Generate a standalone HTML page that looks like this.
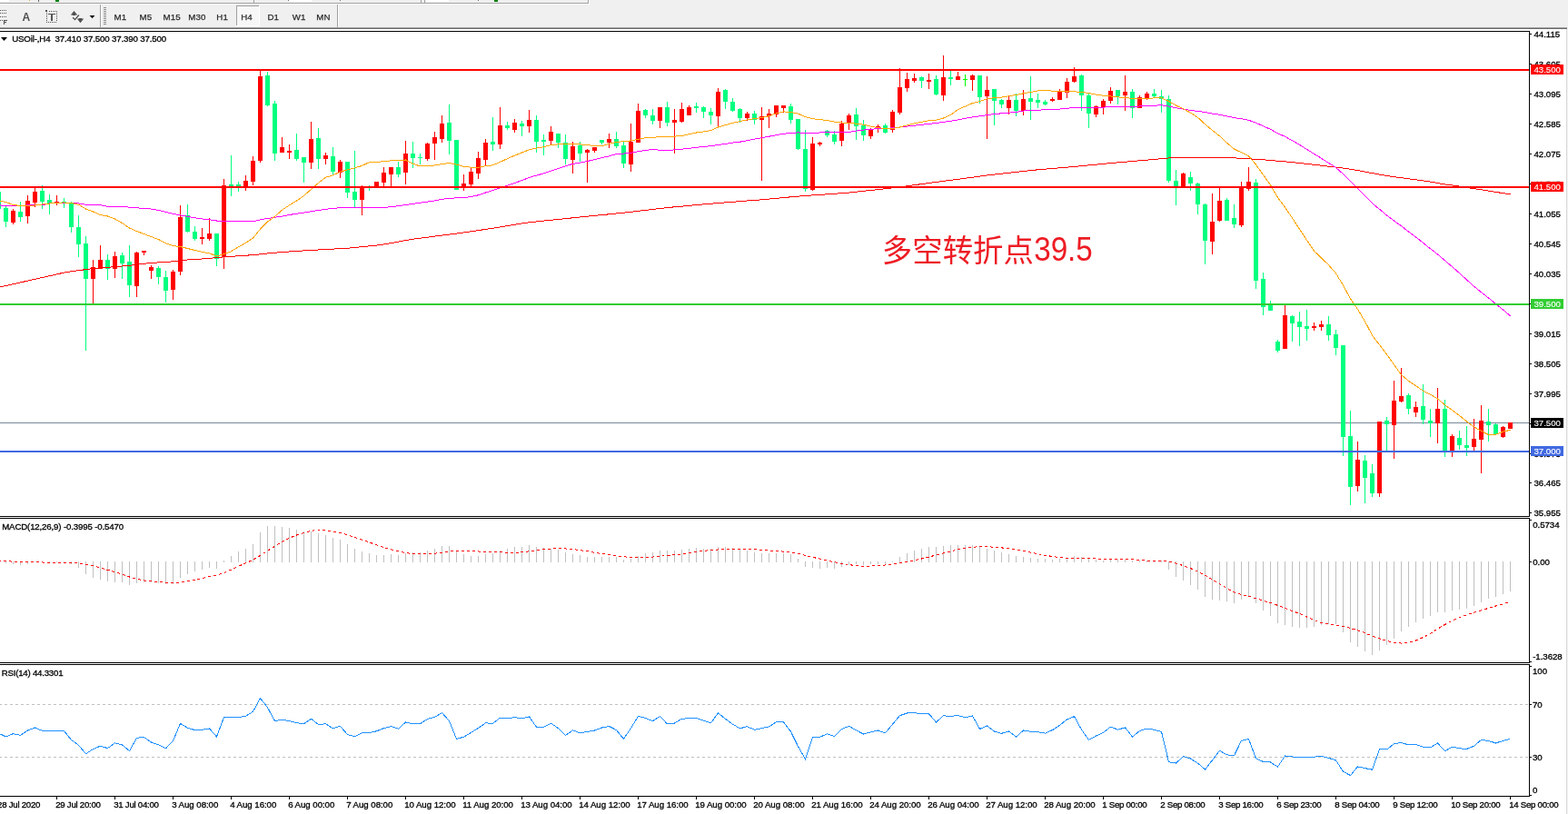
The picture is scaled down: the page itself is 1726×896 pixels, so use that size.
<!DOCTYPE html>
<html><head><meta charset="utf-8"><title>USOil H4</title>
<style>html,body{margin:0;padding:0;background:#f0f0f0;width:1726px;height:896px;overflow:hidden}svg{display:block}</style>
</head><body>
<svg width="1726" height="896" viewBox="0 0 1726 896"><rect x="0" y="0" width="1726" height="30" fill="#f0f0f0"/>
<rect x="0" y="3" width="647" height="1" fill="#a0a0a0"/>
<rect x="647" y="0" width="1" height="4" fill="#a0a0a0"/>
<rect x="0" y="4" width="648" height="1" fill="#ffffff"/>
<rect x="648" y="0" width="1" height="5" fill="#ffffff"/>
<rect x="0" y="0" width="10" height="2" fill="#ffffff"/>
<rect x="61" y="0" width="4" height="2" fill="#008000"/>
<rect x="32" y="0" width="1" height="1" fill="#d8b040"/>
<rect x="42" y="0" width="1" height="2" fill="#606060"/>
<rect x="279" y="0" width="1" height="3" fill="#a0a0a0"/>
<rect x="318" y="0" width="25" height="2" fill="#ffffff"/>
<rect x="463" y="0" width="1" height="3" fill="#a0a0a0"/>
<rect x="467" y="0" width="1" height="3" fill="#a0a0a0"/>
<rect x="469" y="0" width="25" height="2" fill="#ffffff"/>
<rect x="317" y="0" width="1" height="1" fill="#707070"/>
<rect x="374" y="0" width="1" height="1" fill="#707070"/>
<rect x="526" y="0" width="1" height="1" fill="#707070"/>
<rect x="544" y="0" width="4" height="2" fill="#008000"/>
<rect x="110" y="5" width="1" height="25" fill="#a0a0a0"/>
<rect x="111" y="5" width="1" height="25" fill="#ffffff"/>
<rect x="371" y="5" width="1" height="25" fill="#a0a0a0"/>
<rect x="372" y="5" width="1" height="25" fill="#ffffff"/>
<rect x="114" y="8" width="3" height="1" fill="#8c8c8c"/>
<rect x="114" y="10" width="3" height="1" fill="#8c8c8c"/>
<rect x="114" y="12" width="3" height="1" fill="#8c8c8c"/>
<rect x="114" y="14" width="3" height="1" fill="#8c8c8c"/>
<rect x="114" y="16" width="3" height="1" fill="#8c8c8c"/>
<rect x="114" y="18" width="3" height="1" fill="#8c8c8c"/>
<rect x="114" y="20" width="3" height="1" fill="#8c8c8c"/>
<rect x="114" y="22" width="3" height="1" fill="#8c8c8c"/>
<rect x="114" y="24" width="3" height="1" fill="#8c8c8c"/>
<rect x="114" y="26" width="3" height="1" fill="#8c8c8c"/>
<rect x="0" y="11" width="1" height="1" fill="#505050"/>
<rect x="2" y="11" width="1" height="1" fill="#505050"/>
<rect x="4" y="11" width="1" height="1" fill="#505050"/>
<rect x="6" y="11" width="1" height="1" fill="#505050"/>
<rect x="0" y="14" width="1" height="1" fill="#505050"/>
<rect x="2" y="14" width="1" height="1" fill="#505050"/>
<rect x="4" y="14" width="1" height="1" fill="#505050"/>
<rect x="6" y="14" width="1" height="1" fill="#505050"/>
<rect x="0" y="18" width="1" height="1" fill="#505050"/>
<rect x="2" y="18" width="1" height="1" fill="#505050"/>
<rect x="4" y="18" width="1" height="1" fill="#505050"/>
<rect x="6" y="18" width="1" height="1" fill="#505050"/>
<rect x="0" y="22" width="1" height="1" fill="#505050"/>
<rect x="2" y="22" width="1" height="1" fill="#505050"/>
<rect x="4" y="22" width="1" height="5" fill="#505050"/>
<rect x="4" y="22" width="4" height="1" fill="#505050"/>
<rect x="4" y="24" width="3" height="1" fill="#505050"/>
<text x="24.5" y="22.7" fill="#505050" style="font-family:'Liberation Sans',Arial,sans-serif;font-size:12px;font-weight:bold">A</text>
<rect x="50" y="11" width="2" height="2" fill="#505050"/>
<rect x="54" y="12" width="1" height="1" fill="#505050"/>
<rect x="56" y="12" width="1" height="1" fill="#505050"/>
<rect x="58" y="12" width="1" height="1" fill="#505050"/>
<rect x="60" y="12" width="1" height="1" fill="#505050"/>
<rect x="62" y="12" width="1" height="1" fill="#505050"/>
<rect x="51" y="14" width="1" height="1" fill="#505050"/>
<rect x="62" y="14" width="1" height="1" fill="#505050"/>
<rect x="51" y="16" width="1" height="1" fill="#505050"/>
<rect x="62" y="16" width="1" height="1" fill="#505050"/>
<rect x="51" y="18" width="1" height="1" fill="#505050"/>
<rect x="62" y="18" width="1" height="1" fill="#505050"/>
<rect x="51" y="20" width="1" height="1" fill="#505050"/>
<rect x="62" y="20" width="1" height="1" fill="#505050"/>
<rect x="51" y="22" width="1" height="1" fill="#505050"/>
<rect x="62" y="22" width="1" height="1" fill="#505050"/>
<rect x="51" y="24" width="1" height="1" fill="#505050"/>
<rect x="53" y="24" width="1" height="1" fill="#505050"/>
<rect x="55" y="24" width="1" height="1" fill="#505050"/>
<rect x="57" y="24" width="1" height="1" fill="#505050"/>
<rect x="59" y="24" width="1" height="1" fill="#505050"/>
<rect x="61" y="24" width="1" height="1" fill="#505050"/>
<rect x="53" y="15" width="8" height="1" fill="#555555"/>
<rect x="56" y="15" width="2" height="8" fill="#555555"/>
<polygon points="77.8,16.6 81.5,12 85.2,16.6" fill="#505050"/>
<rect x="80" y="16" width="3" height="1" fill="#505050"/>
<polygon points="84.8,20.6 92.2,20.6 88.5,25.2" fill="#505050"/>
<rect x="87" y="20" width="3" height="1" fill="#505050"/>
<polyline points="80.2,19.2 82.5,21.6 86.9,16.5" fill="none" stroke="#505050" stroke-width="1.3"/>
<polygon points="98.5,17 104.5,17 101.5,20.3" fill="#101010"/>
<rect x="260" y="6" width="25" height="1" fill="#a0a0a0"/>
<rect x="260" y="6" width="1" height="22" fill="#a0a0a0"/>
<defs><pattern id="dith" width="2" height="2" patternUnits="userSpaceOnUse"><rect width="2" height="2" fill="#f0f0f0"/><rect width="1" height="1" fill="#ffffff"/><rect x="1" y="1" width="1" height="1" fill="#ffffff"/></pattern></defs>
<rect x="261" y="7" width="24" height="21" fill="url(#dith)"/>
<rect x="285" y="6" width="1" height="23" fill="#ffffff"/>
<rect x="260" y="28" width="26" height="1" fill="#ffffff"/>
<text x="125.5" y="21.9" fill="#2a2a2a" stroke="#2a2a2a" stroke-width="0.25" style="font-family:'Liberation Sans',Arial,sans-serif;font-size:9.7px;letter-spacing:0.15px" text-anchor="start" >M1</text>
<text x="153.5" y="21.9" fill="#2a2a2a" stroke="#2a2a2a" stroke-width="0.25" style="font-family:'Liberation Sans',Arial,sans-serif;font-size:9.7px;letter-spacing:0.15px" text-anchor="start" >M5</text>
<text x="179.5" y="21.9" fill="#2a2a2a" stroke="#2a2a2a" stroke-width="0.25" style="font-family:'Liberation Sans',Arial,sans-serif;font-size:9.7px;letter-spacing:0.15px" text-anchor="start" >M15</text>
<text x="207.3" y="21.9" fill="#2a2a2a" stroke="#2a2a2a" stroke-width="0.25" style="font-family:'Liberation Sans',Arial,sans-serif;font-size:9.7px;letter-spacing:0.15px" text-anchor="start" >M30</text>
<text x="238.3" y="21.9" fill="#2a2a2a" stroke="#2a2a2a" stroke-width="0.25" style="font-family:'Liberation Sans',Arial,sans-serif;font-size:9.7px;letter-spacing:0.15px" text-anchor="start" >H1</text>
<text x="265.2" y="21.9" fill="#2a2a2a" stroke="#2a2a2a" stroke-width="0.25" style="font-family:'Liberation Sans',Arial,sans-serif;font-size:9.7px;letter-spacing:0.15px" text-anchor="start" >H4</text>
<text x="294.4" y="21.9" fill="#2a2a2a" stroke="#2a2a2a" stroke-width="0.25" style="font-family:'Liberation Sans',Arial,sans-serif;font-size:9.7px;letter-spacing:0.15px" text-anchor="start" >D1</text>
<text x="321.8" y="21.9" fill="#2a2a2a" stroke="#2a2a2a" stroke-width="0.25" style="font-family:'Liberation Sans',Arial,sans-serif;font-size:9.7px;letter-spacing:0.15px" text-anchor="start" >W1</text>
<text x="348.2" y="21.9" fill="#2a2a2a" stroke="#2a2a2a" stroke-width="0.25" style="font-family:'Liberation Sans',Arial,sans-serif;font-size:9.7px;letter-spacing:0.15px" text-anchor="start" >MN</text>
<rect x="0" y="30" width="1725" height="1" fill="#a0a0a0"/>
<rect x="0" y="31" width="1725" height="1" fill="#696969"/>
<rect x="0" y="32" width="1724" height="864" fill="#ffffff"/>
<rect x="1724" y="32" width="1" height="864" fill="#d8d8d8"/>
<rect x="1725" y="30" width="1" height="866" fill="#f4f4f4"/>
<rect x="0" y="465" width="1683" height="1" fill="#778899"/>
<g shape-rendering="crispEdges">
<rect x="-2" y="205" width="1" height="31" fill="#00ff7f"/>
<rect x="-4" y="211" width="5" height="19" fill="#00ff7f"/>
<rect x="6" y="227" width="1" height="23" fill="#00ff7f"/>
<rect x="4" y="229" width="5" height="15" fill="#00ff7f"/>
<rect x="14" y="230" width="1" height="17" fill="#ff0000"/>
<rect x="12" y="232" width="5" height="13" fill="#ff0000"/>
<rect x="22" y="222" width="1" height="22" fill="#00ff7f"/>
<rect x="20" y="233" width="5" height="6" fill="#00ff7f"/>
<rect x="30" y="215" width="1" height="31" fill="#ff0000"/>
<rect x="28" y="221" width="5" height="17" fill="#ff0000"/>
<rect x="38" y="206" width="1" height="22" fill="#ff0000"/>
<rect x="36" y="211" width="5" height="12" fill="#ff0000"/>
<rect x="46" y="204" width="1" height="26" fill="#00ff7f"/>
<rect x="44" y="210" width="5" height="12" fill="#00ff7f"/>
<rect x="54" y="214" width="1" height="22" fill="#00ff7f"/>
<rect x="52" y="220" width="5" height="4" fill="#00ff7f"/>
<rect x="62" y="215" width="1" height="11" fill="#ff0000"/>
<rect x="60" y="222" width="5" height="2" fill="#ff0000"/>
<rect x="70" y="218" width="1" height="11" fill="#00ff7f"/>
<rect x="68" y="222" width="5" height="1" fill="#00ff7f"/>
<rect x="78" y="222" width="1" height="34" fill="#00ff7f"/>
<rect x="76" y="223" width="5" height="27" fill="#00ff7f"/>
<rect x="86" y="237" width="1" height="46" fill="#00ff7f"/>
<rect x="84" y="250" width="5" height="19" fill="#00ff7f"/>
<rect x="94" y="260" width="1" height="126" fill="#00ff7f"/>
<rect x="92" y="268" width="5" height="39" fill="#00ff7f"/>
<rect x="102" y="286" width="1" height="48" fill="#ff0000"/>
<rect x="100" y="294" width="5" height="13" fill="#ff0000"/>
<rect x="110" y="270" width="1" height="26" fill="#ff0000"/>
<rect x="108" y="286" width="5" height="10" fill="#ff0000"/>
<rect x="118" y="280" width="1" height="28" fill="#00ff7f"/>
<rect x="116" y="286" width="5" height="10" fill="#00ff7f"/>
<rect x="126" y="277" width="1" height="29" fill="#ff0000"/>
<rect x="124" y="282" width="5" height="14" fill="#ff0000"/>
<rect x="134" y="278" width="1" height="29" fill="#00ff7f"/>
<rect x="132" y="281" width="5" height="9" fill="#00ff7f"/>
<rect x="142" y="270" width="1" height="57" fill="#00ff7f"/>
<rect x="140" y="288" width="5" height="26" fill="#00ff7f"/>
<rect x="150" y="277" width="1" height="50" fill="#ff0000"/>
<rect x="148" y="278" width="5" height="37" fill="#ff0000"/>
<rect x="158" y="276" width="1" height="5" fill="#ff0000"/>
<rect x="156" y="276" width="5" height="2" fill="#ff0000"/>
<rect x="166" y="292" width="1" height="15" fill="#ff0000"/>
<rect x="164" y="294" width="5" height="4" fill="#ff0000"/>
<rect x="174" y="293" width="1" height="20" fill="#00ff7f"/>
<rect x="172" y="295" width="5" height="10" fill="#00ff7f"/>
<rect x="182" y="298" width="1" height="35" fill="#00ff7f"/>
<rect x="180" y="305" width="5" height="15" fill="#00ff7f"/>
<rect x="190" y="297" width="1" height="33" fill="#ff0000"/>
<rect x="188" y="299" width="5" height="20" fill="#ff0000"/>
<rect x="198" y="226" width="1" height="77" fill="#ff0000"/>
<rect x="196" y="239" width="5" height="60" fill="#ff0000"/>
<rect x="206" y="225" width="1" height="31" fill="#00ff7f"/>
<rect x="204" y="237" width="5" height="18" fill="#00ff7f"/>
<rect x="214" y="249" width="1" height="16" fill="#00ff7f"/>
<rect x="212" y="255" width="5" height="8" fill="#00ff7f"/>
<rect x="222" y="251" width="1" height="18" fill="#ff0000"/>
<rect x="220" y="261" width="5" height="2" fill="#ff0000"/>
<rect x="230" y="240" width="1" height="25" fill="#ff0000"/>
<rect x="228" y="257" width="5" height="6" fill="#ff0000"/>
<rect x="238" y="257" width="1" height="36" fill="#00ff7f"/>
<rect x="236" y="257" width="5" height="28" fill="#00ff7f"/>
<rect x="246" y="197" width="1" height="99" fill="#ff0000"/>
<rect x="244" y="204" width="5" height="79" fill="#ff0000"/>
<rect x="254" y="171" width="1" height="45" fill="#00ff7f"/>
<rect x="252" y="203" width="5" height="2" fill="#00ff7f"/>
<rect x="262" y="200" width="1" height="11" fill="#00ff7f"/>
<rect x="260" y="203" width="5" height="2" fill="#00ff7f"/>
<rect x="270" y="193" width="1" height="17" fill="#ff0000"/>
<rect x="268" y="199" width="5" height="6" fill="#ff0000"/>
<rect x="278" y="172" width="1" height="32" fill="#ff0000"/>
<rect x="276" y="177" width="5" height="23" fill="#ff0000"/>
<rect x="286" y="77" width="1" height="102" fill="#ff0000"/>
<rect x="284" y="84" width="5" height="93" fill="#ff0000"/>
<rect x="294" y="79" width="1" height="38" fill="#00ff7f"/>
<rect x="292" y="83" width="5" height="33" fill="#00ff7f"/>
<rect x="302" y="111" width="1" height="66" fill="#00ff7f"/>
<rect x="300" y="114" width="5" height="55" fill="#00ff7f"/>
<rect x="310" y="151" width="1" height="17" fill="#ff0000"/>
<rect x="308" y="162" width="5" height="6" fill="#ff0000"/>
<rect x="318" y="159" width="1" height="16" fill="#ff0000"/>
<rect x="316" y="166" width="5" height="2" fill="#ff0000"/>
<rect x="326" y="147" width="1" height="30" fill="#00ff7f"/>
<rect x="324" y="165" width="5" height="10" fill="#00ff7f"/>
<rect x="334" y="173" width="1" height="28" fill="#00ff7f"/>
<rect x="332" y="173" width="5" height="6" fill="#00ff7f"/>
<rect x="342" y="134" width="1" height="52" fill="#ff0000"/>
<rect x="340" y="153" width="5" height="26" fill="#ff0000"/>
<rect x="350" y="141" width="1" height="45" fill="#00ff7f"/>
<rect x="348" y="152" width="5" height="23" fill="#00ff7f"/>
<rect x="358" y="168" width="1" height="13" fill="#ff0000"/>
<rect x="356" y="171" width="5" height="4" fill="#ff0000"/>
<rect x="366" y="162" width="1" height="30" fill="#00ff7f"/>
<rect x="364" y="172" width="5" height="17" fill="#00ff7f"/>
<rect x="374" y="176" width="1" height="20" fill="#ff0000"/>
<rect x="372" y="178" width="5" height="12" fill="#ff0000"/>
<rect x="382" y="178" width="1" height="40" fill="#00ff7f"/>
<rect x="380" y="178" width="5" height="34" fill="#00ff7f"/>
<rect x="390" y="166" width="1" height="62" fill="#00ff7f"/>
<rect x="388" y="211" width="5" height="9" fill="#00ff7f"/>
<rect x="398" y="204" width="1" height="33" fill="#ff0000"/>
<rect x="396" y="206" width="5" height="14" fill="#ff0000"/>
<rect x="406" y="204" width="1" height="6" fill="#00ff7f"/>
<rect x="404" y="205" width="5" height="1" fill="#00ff7f"/>
<rect x="414" y="200" width="1" height="6" fill="#ff0000"/>
<rect x="412" y="200" width="5" height="6" fill="#ff0000"/>
<rect x="422" y="184" width="1" height="21" fill="#ff0000"/>
<rect x="420" y="190" width="5" height="11" fill="#ff0000"/>
<rect x="430" y="184" width="1" height="21" fill="#ff0000"/>
<rect x="428" y="184" width="5" height="8" fill="#ff0000"/>
<rect x="438" y="178" width="1" height="17" fill="#00ff7f"/>
<rect x="436" y="184" width="5" height="8" fill="#00ff7f"/>
<rect x="446" y="155" width="1" height="48" fill="#ff0000"/>
<rect x="444" y="169" width="5" height="21" fill="#ff0000"/>
<rect x="454" y="156" width="1" height="29" fill="#00ff7f"/>
<rect x="452" y="169" width="5" height="5" fill="#00ff7f"/>
<rect x="462" y="169" width="1" height="12" fill="#00ff7f"/>
<rect x="460" y="173" width="5" height="1" fill="#00ff7f"/>
<rect x="470" y="157" width="1" height="20" fill="#ff0000"/>
<rect x="468" y="158" width="5" height="17" fill="#ff0000"/>
<rect x="478" y="145" width="1" height="31" fill="#ff0000"/>
<rect x="476" y="151" width="5" height="7" fill="#ff0000"/>
<rect x="486" y="127" width="1" height="30" fill="#ff0000"/>
<rect x="484" y="136" width="5" height="17" fill="#ff0000"/>
<rect x="494" y="115" width="1" height="55" fill="#00ff7f"/>
<rect x="492" y="135" width="5" height="20" fill="#00ff7f"/>
<rect x="502" y="154" width="1" height="55" fill="#00ff7f"/>
<rect x="500" y="154" width="5" height="55" fill="#00ff7f"/>
<rect x="510" y="192" width="1" height="18" fill="#ff0000"/>
<rect x="508" y="202" width="5" height="5" fill="#ff0000"/>
<rect x="518" y="185" width="1" height="20" fill="#ff0000"/>
<rect x="516" y="189" width="5" height="14" fill="#ff0000"/>
<rect x="526" y="167" width="1" height="30" fill="#ff0000"/>
<rect x="524" y="174" width="5" height="17" fill="#ff0000"/>
<rect x="534" y="153" width="1" height="29" fill="#ff0000"/>
<rect x="532" y="157" width="5" height="19" fill="#ff0000"/>
<rect x="542" y="129" width="1" height="37" fill="#00ff7f"/>
<rect x="540" y="156" width="5" height="3" fill="#00ff7f"/>
<rect x="550" y="118" width="1" height="46" fill="#ff0000"/>
<rect x="548" y="138" width="5" height="21" fill="#ff0000"/>
<rect x="558" y="134" width="1" height="9" fill="#00ff7f"/>
<rect x="556" y="138" width="5" height="3" fill="#00ff7f"/>
<rect x="566" y="131" width="1" height="15" fill="#ff0000"/>
<rect x="564" y="135" width="5" height="8" fill="#ff0000"/>
<rect x="574" y="133" width="1" height="17" fill="#00ff7f"/>
<rect x="572" y="136" width="5" height="3" fill="#00ff7f"/>
<rect x="582" y="121" width="1" height="25" fill="#ff0000"/>
<rect x="580" y="132" width="5" height="7" fill="#ff0000"/>
<rect x="590" y="127" width="1" height="41" fill="#00ff7f"/>
<rect x="588" y="132" width="5" height="24" fill="#00ff7f"/>
<rect x="598" y="148" width="1" height="23" fill="#00ff7f"/>
<rect x="596" y="154" width="5" height="2" fill="#00ff7f"/>
<rect x="606" y="139" width="1" height="20" fill="#ff0000"/>
<rect x="604" y="145" width="5" height="10" fill="#ff0000"/>
<rect x="614" y="147" width="1" height="16" fill="#00ff7f"/>
<rect x="612" y="147" width="5" height="10" fill="#00ff7f"/>
<rect x="622" y="148" width="1" height="33" fill="#00ff7f"/>
<rect x="620" y="157" width="5" height="18" fill="#00ff7f"/>
<rect x="630" y="156" width="1" height="35" fill="#ff0000"/>
<rect x="628" y="161" width="5" height="15" fill="#ff0000"/>
<rect x="638" y="156" width="1" height="22" fill="#00ff7f"/>
<rect x="636" y="160" width="5" height="9" fill="#00ff7f"/>
<rect x="646" y="164" width="1" height="37" fill="#ff0000"/>
<rect x="644" y="165" width="5" height="3" fill="#ff0000"/>
<rect x="654" y="162" width="1" height="6" fill="#ff0000"/>
<rect x="652" y="162" width="5" height="4" fill="#ff0000"/>
<rect x="662" y="154" width="1" height="5" fill="#00ff7f"/>
<rect x="660" y="154" width="5" height="3" fill="#00ff7f"/>
<rect x="670" y="147" width="1" height="16" fill="#ff0000"/>
<rect x="668" y="153" width="5" height="4" fill="#ff0000"/>
<rect x="678" y="145" width="1" height="18" fill="#00ff7f"/>
<rect x="676" y="153" width="5" height="8" fill="#00ff7f"/>
<rect x="686" y="156" width="1" height="29" fill="#00ff7f"/>
<rect x="684" y="160" width="5" height="20" fill="#00ff7f"/>
<rect x="694" y="136" width="1" height="53" fill="#ff0000"/>
<rect x="692" y="156" width="5" height="25" fill="#ff0000"/>
<rect x="702" y="114" width="1" height="43" fill="#ff0000"/>
<rect x="700" y="122" width="5" height="35" fill="#ff0000"/>
<rect x="710" y="120" width="1" height="10" fill="#00ff7f"/>
<rect x="708" y="121" width="5" height="6" fill="#00ff7f"/>
<rect x="718" y="120" width="1" height="17" fill="#00ff7f"/>
<rect x="716" y="127" width="5" height="6" fill="#00ff7f"/>
<rect x="726" y="118" width="1" height="23" fill="#ff0000"/>
<rect x="724" y="118" width="5" height="15" fill="#ff0000"/>
<rect x="734" y="112" width="1" height="27" fill="#00ff7f"/>
<rect x="732" y="118" width="5" height="17" fill="#00ff7f"/>
<rect x="742" y="120" width="1" height="49" fill="#ff0000"/>
<rect x="740" y="132" width="5" height="3" fill="#ff0000"/>
<rect x="750" y="113" width="1" height="22" fill="#ff0000"/>
<rect x="748" y="120" width="5" height="14" fill="#ff0000"/>
<rect x="758" y="116" width="1" height="11" fill="#ff0000"/>
<rect x="756" y="118" width="5" height="9" fill="#ff0000"/>
<rect x="766" y="113" width="1" height="11" fill="#00ff7f"/>
<rect x="764" y="117" width="5" height="2" fill="#00ff7f"/>
<rect x="774" y="117" width="1" height="13" fill="#00ff7f"/>
<rect x="772" y="118" width="5" height="5" fill="#00ff7f"/>
<rect x="782" y="119" width="1" height="18" fill="#00ff7f"/>
<rect x="780" y="123" width="5" height="4" fill="#00ff7f"/>
<rect x="790" y="97" width="1" height="43" fill="#ff0000"/>
<rect x="788" y="101" width="5" height="27" fill="#ff0000"/>
<rect x="798" y="98" width="1" height="22" fill="#00ff7f"/>
<rect x="796" y="99" width="5" height="13" fill="#00ff7f"/>
<rect x="806" y="108" width="1" height="15" fill="#00ff7f"/>
<rect x="804" y="112" width="5" height="10" fill="#00ff7f"/>
<rect x="814" y="119" width="1" height="16" fill="#00ff7f"/>
<rect x="812" y="120" width="5" height="10" fill="#00ff7f"/>
<rect x="822" y="123" width="1" height="10" fill="#ff0000"/>
<rect x="820" y="125" width="5" height="5" fill="#ff0000"/>
<rect x="830" y="122" width="1" height="15" fill="#00ff7f"/>
<rect x="828" y="125" width="5" height="7" fill="#00ff7f"/>
<rect x="838" y="118" width="1" height="81" fill="#ff0000"/>
<rect x="836" y="128" width="5" height="4" fill="#ff0000"/>
<rect x="846" y="120" width="1" height="21" fill="#ff0000"/>
<rect x="844" y="125" width="5" height="3" fill="#ff0000"/>
<rect x="854" y="116" width="1" height="13" fill="#ff0000"/>
<rect x="852" y="116" width="5" height="10" fill="#ff0000"/>
<rect x="862" y="116" width="1" height="8" fill="#ff0000"/>
<rect x="860" y="116" width="5" height="3" fill="#ff0000"/>
<rect x="870" y="114" width="1" height="22" fill="#00ff7f"/>
<rect x="868" y="117" width="5" height="15" fill="#00ff7f"/>
<rect x="878" y="131" width="1" height="34" fill="#00ff7f"/>
<rect x="876" y="131" width="5" height="33" fill="#00ff7f"/>
<rect x="886" y="143" width="1" height="68" fill="#00ff7f"/>
<rect x="884" y="164" width="5" height="44" fill="#00ff7f"/>
<rect x="894" y="151" width="1" height="59" fill="#ff0000"/>
<rect x="892" y="158" width="5" height="51" fill="#ff0000"/>
<rect x="902" y="156" width="1" height="5" fill="#ff0000"/>
<rect x="900" y="157" width="5" height="2" fill="#ff0000"/>
<rect x="910" y="143" width="1" height="8" fill="#00ff7f"/>
<rect x="908" y="144" width="5" height="5" fill="#00ff7f"/>
<rect x="918" y="144" width="1" height="15" fill="#00ff7f"/>
<rect x="916" y="148" width="5" height="8" fill="#00ff7f"/>
<rect x="926" y="133" width="1" height="28" fill="#ff0000"/>
<rect x="924" y="136" width="5" height="19" fill="#ff0000"/>
<rect x="934" y="125" width="1" height="18" fill="#ff0000"/>
<rect x="932" y="127" width="5" height="8" fill="#ff0000"/>
<rect x="942" y="119" width="1" height="35" fill="#00ff7f"/>
<rect x="940" y="126" width="5" height="13" fill="#00ff7f"/>
<rect x="950" y="132" width="1" height="23" fill="#00ff7f"/>
<rect x="948" y="138" width="5" height="11" fill="#00ff7f"/>
<rect x="958" y="141" width="1" height="12" fill="#ff0000"/>
<rect x="956" y="143" width="5" height="7" fill="#ff0000"/>
<rect x="966" y="137" width="1" height="9" fill="#ff0000"/>
<rect x="964" y="139" width="5" height="3" fill="#ff0000"/>
<rect x="974" y="136" width="1" height="11" fill="#00ff7f"/>
<rect x="972" y="138" width="5" height="8" fill="#00ff7f"/>
<rect x="982" y="121" width="1" height="25" fill="#ff0000"/>
<rect x="980" y="123" width="5" height="20" fill="#ff0000"/>
<rect x="990" y="75" width="1" height="51" fill="#ff0000"/>
<rect x="988" y="96" width="5" height="28" fill="#ff0000"/>
<rect x="998" y="80" width="1" height="21" fill="#ff0000"/>
<rect x="996" y="87" width="5" height="10" fill="#ff0000"/>
<rect x="1006" y="81" width="1" height="10" fill="#ff0000"/>
<rect x="1004" y="86" width="5" height="3" fill="#ff0000"/>
<rect x="1014" y="84" width="1" height="13" fill="#00ff7f"/>
<rect x="1012" y="85" width="5" height="4" fill="#00ff7f"/>
<rect x="1022" y="81" width="1" height="17" fill="#ff0000"/>
<rect x="1020" y="88" width="5" height="2" fill="#ff0000"/>
<rect x="1030" y="83" width="1" height="22" fill="#00ff7f"/>
<rect x="1028" y="87" width="5" height="17" fill="#00ff7f"/>
<rect x="1038" y="61" width="1" height="50" fill="#ff0000"/>
<rect x="1036" y="85" width="5" height="20" fill="#ff0000"/>
<rect x="1046" y="78" width="1" height="16" fill="#00ff7f"/>
<rect x="1044" y="85" width="5" height="2" fill="#00ff7f"/>
<rect x="1054" y="79" width="1" height="9" fill="#ff0000"/>
<rect x="1052" y="84" width="5" height="4" fill="#ff0000"/>
<rect x="1062" y="82" width="1" height="13" fill="#00ff00"/>
<rect x="1060" y="87" width="5" height="1" fill="#00ff00"/>
<rect x="1070" y="82" width="1" height="18" fill="#ff0000"/>
<rect x="1068" y="83" width="5" height="5" fill="#ff0000"/>
<rect x="1078" y="83" width="1" height="31" fill="#00ff7f"/>
<rect x="1076" y="83" width="5" height="24" fill="#00ff7f"/>
<rect x="1086" y="84" width="1" height="69" fill="#ff0000"/>
<rect x="1084" y="99" width="5" height="7" fill="#ff0000"/>
<rect x="1094" y="98" width="1" height="40" fill="#00ff7f"/>
<rect x="1092" y="98" width="5" height="13" fill="#00ff7f"/>
<rect x="1102" y="109" width="1" height="10" fill="#00ff7f"/>
<rect x="1100" y="110" width="5" height="5" fill="#00ff7f"/>
<rect x="1110" y="105" width="1" height="21" fill="#ff0000"/>
<rect x="1108" y="110" width="5" height="9" fill="#ff0000"/>
<rect x="1118" y="103" width="1" height="25" fill="#00ff7f"/>
<rect x="1116" y="110" width="5" height="12" fill="#00ff7f"/>
<rect x="1126" y="99" width="1" height="28" fill="#ff0000"/>
<rect x="1124" y="109" width="5" height="13" fill="#ff0000"/>
<rect x="1134" y="84" width="1" height="48" fill="#00ff7f"/>
<rect x="1132" y="108" width="5" height="4" fill="#00ff7f"/>
<rect x="1142" y="103" width="1" height="16" fill="#00ff7f"/>
<rect x="1140" y="110" width="5" height="3" fill="#00ff7f"/>
<rect x="1150" y="110" width="1" height="6" fill="#00ff7f"/>
<rect x="1148" y="112" width="5" height="3" fill="#00ff7f"/>
<rect x="1158" y="107" width="1" height="5" fill="#ff0000"/>
<rect x="1156" y="109" width="5" height="2" fill="#ff0000"/>
<rect x="1166" y="98" width="1" height="12" fill="#ff0000"/>
<rect x="1164" y="101" width="5" height="9" fill="#ff0000"/>
<rect x="1174" y="86" width="1" height="22" fill="#ff0000"/>
<rect x="1172" y="90" width="5" height="12" fill="#ff0000"/>
<rect x="1182" y="74" width="1" height="17" fill="#ff0000"/>
<rect x="1180" y="84" width="5" height="6" fill="#ff0000"/>
<rect x="1190" y="82" width="1" height="40" fill="#00ff7f"/>
<rect x="1188" y="83" width="5" height="22" fill="#00ff7f"/>
<rect x="1198" y="103" width="1" height="38" fill="#00ff7f"/>
<rect x="1196" y="105" width="5" height="20" fill="#00ff7f"/>
<rect x="1206" y="116" width="1" height="13" fill="#ff0000"/>
<rect x="1204" y="117" width="5" height="9" fill="#ff0000"/>
<rect x="1214" y="109" width="1" height="17" fill="#ff0000"/>
<rect x="1212" y="111" width="5" height="7" fill="#ff0000"/>
<rect x="1222" y="96" width="1" height="18" fill="#ff0000"/>
<rect x="1220" y="100" width="5" height="11" fill="#ff0000"/>
<rect x="1230" y="99" width="1" height="16" fill="#00ff7f"/>
<rect x="1228" y="99" width="5" height="7" fill="#00ff7f"/>
<rect x="1238" y="83" width="1" height="39" fill="#ff0000"/>
<rect x="1236" y="101" width="5" height="4" fill="#ff0000"/>
<rect x="1246" y="98" width="1" height="32" fill="#00ff7f"/>
<rect x="1244" y="101" width="5" height="18" fill="#00ff7f"/>
<rect x="1254" y="105" width="1" height="14" fill="#ff0000"/>
<rect x="1252" y="107" width="5" height="12" fill="#ff0000"/>
<rect x="1262" y="101" width="1" height="9" fill="#ff0000"/>
<rect x="1260" y="103" width="5" height="5" fill="#ff0000"/>
<rect x="1270" y="98" width="1" height="9" fill="#00ff7f"/>
<rect x="1268" y="103" width="5" height="3" fill="#00ff7f"/>
<rect x="1278" y="99" width="1" height="25" fill="#00ff7f"/>
<rect x="1276" y="106" width="5" height="3" fill="#00ff7f"/>
<rect x="1286" y="105" width="1" height="96" fill="#00ff7f"/>
<rect x="1284" y="109" width="5" height="90" fill="#00ff7f"/>
<rect x="1294" y="187" width="1" height="39" fill="#00ff7f"/>
<rect x="1292" y="199" width="5" height="6" fill="#00ff7f"/>
<rect x="1302" y="190" width="1" height="15" fill="#ff0000"/>
<rect x="1300" y="191" width="5" height="14" fill="#ff0000"/>
<rect x="1310" y="189" width="1" height="21" fill="#00ff7f"/>
<rect x="1308" y="195" width="5" height="7" fill="#00ff7f"/>
<rect x="1318" y="201" width="1" height="35" fill="#00ff7f"/>
<rect x="1316" y="202" width="5" height="23" fill="#00ff7f"/>
<rect x="1326" y="224" width="1" height="67" fill="#00ff7f"/>
<rect x="1324" y="225" width="5" height="40" fill="#00ff7f"/>
<rect x="1334" y="213" width="1" height="67" fill="#ff0000"/>
<rect x="1332" y="244" width="5" height="22" fill="#ff0000"/>
<rect x="1342" y="206" width="1" height="38" fill="#ff0000"/>
<rect x="1340" y="221" width="5" height="22" fill="#ff0000"/>
<rect x="1350" y="218" width="1" height="25" fill="#00ff7f"/>
<rect x="1348" y="220" width="5" height="23" fill="#00ff7f"/>
<rect x="1358" y="225" width="1" height="26" fill="#00ff7f"/>
<rect x="1356" y="240" width="5" height="7" fill="#00ff7f"/>
<rect x="1366" y="200" width="1" height="50" fill="#ff0000"/>
<rect x="1364" y="205" width="5" height="43" fill="#ff0000"/>
<rect x="1374" y="184" width="1" height="26" fill="#ff0000"/>
<rect x="1372" y="200" width="5" height="8" fill="#ff0000"/>
<rect x="1382" y="197" width="1" height="121" fill="#00ff7f"/>
<rect x="1380" y="201" width="5" height="108" fill="#00ff7f"/>
<rect x="1390" y="300" width="1" height="47" fill="#00ff7f"/>
<rect x="1388" y="307" width="5" height="31" fill="#00ff7f"/>
<rect x="1398" y="331" width="1" height="11" fill="#00ff7f"/>
<rect x="1396" y="335" width="5" height="7" fill="#00ff7f"/>
<rect x="1406" y="374" width="1" height="14" fill="#00ff7f"/>
<rect x="1404" y="376" width="5" height="10" fill="#00ff7f"/>
<rect x="1414" y="336" width="1" height="48" fill="#ff0000"/>
<rect x="1412" y="347" width="5" height="37" fill="#ff0000"/>
<rect x="1422" y="347" width="1" height="29" fill="#00ff7f"/>
<rect x="1420" y="348" width="5" height="8" fill="#00ff7f"/>
<rect x="1430" y="343" width="1" height="38" fill="#00ff7f"/>
<rect x="1428" y="354" width="5" height="6" fill="#00ff7f"/>
<rect x="1438" y="341" width="1" height="34" fill="#00ff7f"/>
<rect x="1436" y="359" width="5" height="3" fill="#00ff7f"/>
<rect x="1446" y="355" width="1" height="9" fill="#ff0000"/>
<rect x="1444" y="359" width="5" height="2" fill="#ff0000"/>
<rect x="1454" y="353" width="1" height="11" fill="#ff0000"/>
<rect x="1452" y="357" width="5" height="3" fill="#ff0000"/>
<rect x="1462" y="348" width="1" height="27" fill="#00ff7f"/>
<rect x="1460" y="357" width="5" height="12" fill="#00ff7f"/>
<rect x="1470" y="363" width="1" height="28" fill="#00ff7f"/>
<rect x="1468" y="368" width="5" height="15" fill="#00ff7f"/>
<rect x="1478" y="380" width="1" height="122" fill="#00ff7f"/>
<rect x="1476" y="380" width="5" height="101" fill="#00ff7f"/>
<rect x="1486" y="452" width="1" height="104" fill="#00ff7f"/>
<rect x="1484" y="480" width="5" height="56" fill="#00ff7f"/>
<rect x="1494" y="486" width="1" height="55" fill="#ff0000"/>
<rect x="1492" y="506" width="5" height="29" fill="#ff0000"/>
<rect x="1502" y="501" width="1" height="53" fill="#00ff7f"/>
<rect x="1500" y="507" width="5" height="19" fill="#00ff7f"/>
<rect x="1510" y="511" width="1" height="36" fill="#00ff7f"/>
<rect x="1508" y="521" width="5" height="22" fill="#00ff7f"/>
<rect x="1518" y="464" width="1" height="83" fill="#ff0000"/>
<rect x="1516" y="464" width="5" height="79" fill="#ff0000"/>
<rect x="1526" y="459" width="1" height="37" fill="#00ff7f"/>
<rect x="1524" y="463" width="5" height="4" fill="#00ff7f"/>
<rect x="1534" y="419" width="1" height="86" fill="#ff0000"/>
<rect x="1532" y="441" width="5" height="27" fill="#ff0000"/>
<rect x="1542" y="405" width="1" height="38" fill="#ff0000"/>
<rect x="1540" y="436" width="5" height="6" fill="#ff0000"/>
<rect x="1550" y="433" width="1" height="23" fill="#00ff7f"/>
<rect x="1548" y="435" width="5" height="15" fill="#00ff7f"/>
<rect x="1558" y="442" width="1" height="17" fill="#ff0000"/>
<rect x="1556" y="448" width="5" height="6" fill="#ff0000"/>
<rect x="1566" y="423" width="1" height="44" fill="#00ff7f"/>
<rect x="1564" y="447" width="5" height="15" fill="#00ff7f"/>
<rect x="1574" y="450" width="1" height="31" fill="#00ff7f"/>
<rect x="1572" y="463" width="5" height="3" fill="#00ff7f"/>
<rect x="1582" y="427" width="1" height="61" fill="#ff0000"/>
<rect x="1580" y="450" width="5" height="16" fill="#ff0000"/>
<rect x="1590" y="440" width="1" height="63" fill="#00ff7f"/>
<rect x="1588" y="450" width="5" height="46" fill="#00ff7f"/>
<rect x="1598" y="478" width="1" height="25" fill="#ff0000"/>
<rect x="1596" y="480" width="5" height="16" fill="#ff0000"/>
<rect x="1606" y="474" width="1" height="21" fill="#00ff7f"/>
<rect x="1604" y="482" width="5" height="8" fill="#00ff7f"/>
<rect x="1614" y="469" width="1" height="33" fill="#00ff7f"/>
<rect x="1612" y="490" width="5" height="3" fill="#00ff7f"/>
<rect x="1622" y="461" width="1" height="35" fill="#ff0000"/>
<rect x="1620" y="483" width="5" height="9" fill="#ff0000"/>
<rect x="1630" y="446" width="1" height="75" fill="#ff0000"/>
<rect x="1628" y="463" width="5" height="21" fill="#ff0000"/>
<rect x="1638" y="450" width="1" height="36" fill="#00ff7f"/>
<rect x="1636" y="464" width="5" height="4" fill="#00ff7f"/>
<rect x="1646" y="466" width="1" height="12" fill="#00ff7f"/>
<rect x="1644" y="467" width="5" height="11" fill="#00ff7f"/>
<rect x="1654" y="469" width="1" height="13" fill="#ff0000"/>
<rect x="1652" y="470" width="5" height="11" fill="#ff0000"/>
<rect x="1662" y="465" width="1" height="7" fill="#ff0000"/>
<rect x="1660" y="465" width="5" height="7" fill="#ff0000"/>
</g>
<g shape-rendering="crispEdges">
<polyline points="-1.5,316.2 6.5,314.5 14.5,312.7 22.5,310.9 30.5,309.1 38.5,307.3 46.5,305.5 54.5,303.7 62.5,301.9 70.5,300.1 78.5,298.8 86.5,297.7 94.5,296.6 102.5,295.5 110.5,294.9 118.5,294.3 126.5,293.6 134.5,293.0 142.5,292.4 150.5,291.1 158.5,290.3 166.5,289.5 174.5,288.9 182.5,288.4 190.5,287.8 198.5,286.9 206.5,286.0 214.5,285.7 222.5,285.0 230.5,284.3 238.5,283.6 246.5,282.9 254.5,282.3 262.5,281.8 270.5,281.2 278.5,280.7 286.5,279.9 294.5,278.9 302.5,278.2 310.5,277.6 318.5,277.0 326.5,276.4 334.5,275.9 342.5,275.4 350.5,275.0 358.5,274.6 366.5,274.1 374.5,273.7 382.5,273.2 390.5,272.5 398.5,271.7 406.5,270.9 414.5,270.1 422.5,269.0 430.5,267.6 438.5,266.1 446.5,264.6 454.5,263.2 462.5,262.2 470.5,261.2 478.5,260.1 486.5,259.1 494.5,258.1 502.5,257.1 510.5,256.0 518.5,254.8 526.5,253.6 534.5,252.4 542.5,251.2 550.5,249.9 558.5,248.6 566.5,247.3 574.5,246.0 582.5,244.8 590.5,244.0 598.5,243.1 606.5,242.3 614.5,241.5 622.5,240.6 630.5,239.8 638.5,239.0 646.5,238.2 654.5,237.4 662.5,236.6 670.5,235.8 678.5,235.0 686.5,234.2 694.5,233.3 702.5,232.3 710.5,231.4 718.5,230.5 726.5,229.5 734.5,228.6 742.5,227.8 750.5,227.1 758.5,226.4 766.5,225.6 774.5,224.9 782.5,224.2 790.5,223.5 798.5,222.9 806.5,222.3 814.5,221.6 822.5,221.0 830.5,220.4 838.5,219.8 846.5,219.1 854.5,218.3 862.5,217.6 870.5,216.8 878.5,216.1 886.5,215.5 894.5,214.9 902.5,214.4 910.5,213.8 918.5,213.3 926.5,212.7 934.5,212.1 942.5,211.2 950.5,210.3 958.5,209.5 966.5,208.6 974.5,207.7 982.5,206.9 990.5,205.8 998.5,204.8 1006.5,203.7 1014.5,202.6 1022.5,201.5 1030.5,200.5 1038.5,199.4 1046.5,198.3 1054.5,197.3 1062.5,196.2 1070.5,195.2 1078.5,194.1 1086.5,193.0 1094.5,192.1 1102.5,191.2 1110.5,190.3 1118.5,189.4 1126.5,188.5 1134.5,187.6 1142.5,186.8 1150.5,186.1 1158.5,185.4 1166.5,184.8 1174.5,184.1 1182.5,183.4 1190.5,182.7 1198.5,181.9 1206.5,181.2 1214.5,180.4 1222.5,179.6 1230.5,178.9 1238.5,178.2 1246.5,177.5 1254.5,176.8 1262.5,176.1 1270.5,175.4 1278.5,174.7 1286.5,174.0 1294.5,173.6 1302.5,173.6 1310.5,173.6 1318.5,173.6 1326.5,173.6 1334.5,173.6 1342.5,173.6 1350.5,173.6 1358.5,173.9 1366.5,174.3 1374.5,174.8 1382.5,175.3 1390.5,175.8 1398.5,176.5 1406.5,177.2 1414.5,177.9 1422.5,178.6 1430.5,179.5 1438.5,180.4 1446.5,181.3 1454.5,182.2 1462.5,183.2 1470.5,184.1 1478.5,185.1 1486.5,186.2 1494.5,187.6 1502.5,189.1 1510.5,190.6 1518.5,192.1 1526.5,193.5 1534.5,194.6 1542.5,195.7 1550.5,196.8 1558.5,197.8 1566.5,198.9 1574.5,200.1 1582.5,201.5 1590.5,202.9 1598.5,203.9 1606.5,205.1 1614.5,206.4 1622.5,207.6 1630.5,208.8 1638.5,210.1 1646.5,211.4 1654.5,212.6 1662.5,213.8" fill="none" stroke="#ff0000" stroke-width="1" />
<polyline points="-1.5,225.5 6.5,226.9 14.5,226.9 22.5,226.9 30.5,225.8 38.5,225.8 46.5,225.8 54.5,224.0 62.5,223.8 70.5,223.8 78.5,223.8 86.5,224.0 94.5,225.3 102.5,225.5 110.5,225.8 118.5,227.3 126.5,227.5 134.5,227.7 142.5,228.1 150.5,228.9 158.5,229.2 166.5,230.1 174.5,231.5 182.5,233.4 190.5,235.3 198.5,237.0 206.5,238.3 214.5,239.8 222.5,241.0 230.5,241.8 238.5,243.0 246.5,243.0 254.5,243.0 262.5,243.0 270.5,243.9 278.5,243.9 286.5,241.8 294.5,240.5 302.5,239.3 310.5,238.1 318.5,236.5 326.5,235.2 334.5,234.1 342.5,232.8 350.5,231.5 358.5,230.3 366.5,229.3 374.5,228.8 382.5,228.8 390.5,228.8 398.5,228.8 406.5,228.8 414.5,228.8 422.5,228.7 430.5,227.5 438.5,226.8 446.5,225.5 454.5,224.4 462.5,223.2 470.5,222.1 478.5,221.0 486.5,219.4 494.5,218.2 502.5,217.9 510.5,217.6 518.5,216.5 526.5,214.8 534.5,212.0 542.5,209.6 550.5,206.9 558.5,204.1 566.5,201.4 574.5,198.6 582.5,195.4 590.5,193.1 598.5,190.9 606.5,188.2 614.5,185.5 622.5,182.9 630.5,180.4 638.5,179.1 646.5,177.5 654.5,175.6 662.5,173.7 670.5,171.8 678.5,169.6 686.5,169.1 694.5,168.3 702.5,166.8 710.5,165.4 718.5,164.6 726.5,165.2 734.5,165.6 742.5,164.9 750.5,164.2 758.5,163.3 766.5,162.3 774.5,161.3 782.5,160.8 790.5,159.4 798.5,158.4 806.5,157.1 814.5,156.2 822.5,154.7 830.5,153.1 838.5,151.7 846.5,150.2 854.5,148.7 862.5,147.3 870.5,146.4 878.5,145.9 886.5,146.6 894.5,146.3 902.5,146.0 910.5,145.8 918.5,145.9 926.5,145.9 934.5,145.4 942.5,144.1 950.5,143.1 958.5,142.3 966.5,141.7 974.5,141.4 982.5,140.8 990.5,140.0 998.5,139.1 1006.5,138.2 1014.5,137.3 1022.5,136.5 1030.5,135.5 1038.5,134.3 1046.5,133.2 1054.5,131.9 1062.5,130.3 1070.5,128.9 1078.5,127.8 1086.5,126.6 1094.5,125.6 1102.5,124.8 1110.5,124.1 1118.5,123.4 1126.5,122.1 1134.5,121.3 1142.5,121.1 1150.5,120.9 1158.5,120.4 1166.5,120.1 1174.5,119.3 1182.5,118.5 1190.5,118.2 1198.5,118.3 1206.5,118.3 1214.5,118.1 1222.5,117.6 1230.5,117.7 1238.5,117.5 1246.5,117.4 1254.5,117.0 1262.5,116.6 1270.5,116.2 1278.5,115.8 1286.5,117.1 1294.5,118.7 1302.5,120.1 1310.5,121.4 1318.5,122.5 1326.5,123.5 1334.5,125.1 1342.5,126.2 1350.5,127.9 1358.5,129.6 1366.5,130.8 1374.5,132.2 1382.5,135.3 1390.5,138.7 1398.5,142.3 1406.5,146.8 1414.5,150.4 1422.5,154.7 1430.5,159.4 1438.5,164.4 1446.5,169.4 1454.5,174.3 1462.5,179.4 1470.5,184.4 1478.5,191.6 1486.5,199.8 1494.5,207.5 1502.5,215.4 1510.5,223.8 1518.5,230.3 1526.5,237.0 1534.5,243.0 1542.5,248.8 1550.5,255.0 1558.5,260.9 1566.5,267.3 1574.5,273.8 1582.5,279.9 1590.5,286.8 1598.5,293.6 1606.5,300.6 1614.5,308.0 1622.5,315.2 1630.5,321.7 1638.5,328.0 1646.5,334.5 1654.5,341.0 1662.5,347.7" fill="none" stroke="#ff00ff" stroke-width="1" />
<polyline points="-1.5,221.0 6.5,222.5 14.5,225.5 22.5,226.5 30.5,226.5 38.5,226.0 46.5,224.9 54.5,224.1 62.5,223.1 70.5,223.0 78.5,223.5 86.5,225.3 94.5,230.0 102.5,233.0 110.5,236.5 118.5,238.0 126.5,241.0 134.5,245.5 142.5,251.0 150.5,254.5 158.5,257.5 166.5,260.6 174.5,263.5 182.5,267.7 190.5,270.6 198.5,271.5 206.5,273.5 214.5,275.5 222.5,277.3 230.5,278.9 238.5,281.9 246.5,279.7 254.5,276.7 262.5,271.8 270.5,267.3 278.5,262.1 286.5,252.1 294.5,244.1 302.5,238.4 310.5,231.2 318.5,225.8 326.5,221.0 334.5,215.5 342.5,208.3 350.5,201.4 358.5,195.3 366.5,192.8 374.5,189.2 382.5,186.8 390.5,184.8 398.5,182.4 406.5,178.6 414.5,178.4 422.5,177.7 430.5,176.8 438.5,176.4 446.5,176.0 454.5,180.3 462.5,183.0 470.5,182.5 478.5,182.0 486.5,180.6 494.5,179.6 502.5,181.1 510.5,183.4 518.5,184.1 526.5,184.3 534.5,182.8 542.5,181.8 550.5,178.4 558.5,174.6 566.5,171.2 574.5,168.0 582.5,164.8 590.5,163.1 598.5,161.7 606.5,159.5 614.5,158.9 622.5,159.0 630.5,158.4 638.5,158.9 646.5,159.5 654.5,160.8 662.5,160.9 670.5,158.3 678.5,156.3 686.5,155.8 694.5,154.9 702.5,153.3 710.5,151.7 718.5,151.5 726.5,150.4 734.5,150.4 742.5,150.1 750.5,149.5 758.5,147.7 766.5,146.0 774.5,144.9 782.5,143.5 790.5,140.0 798.5,137.6 806.5,135.4 814.5,133.6 822.5,131.9 830.5,130.7 838.5,129.5 846.5,127.8 854.5,124.8 862.5,122.9 870.5,123.4 878.5,125.1 886.5,128.7 894.5,130.6 902.5,131.7 910.5,132.5 918.5,134.1 926.5,135.0 934.5,135.4 942.5,136.2 950.5,137.2 958.5,139.2 966.5,140.5 974.5,141.7 982.5,141.4 990.5,140.0 998.5,137.9 1006.5,135.9 1014.5,134.2 1022.5,132.8 1030.5,132.2 1038.5,130.0 1046.5,126.4 1054.5,120.5 1062.5,117.1 1070.5,113.6 1078.5,111.6 1086.5,108.9 1094.5,107.7 1102.5,107.1 1110.5,105.7 1118.5,104.5 1126.5,102.8 1134.5,101.5 1142.5,99.9 1150.5,99.5 1158.5,100.1 1166.5,100.8 1174.5,101.0 1182.5,100.8 1190.5,101.5 1198.5,102.5 1206.5,104.1 1214.5,105.3 1222.5,106.0 1230.5,106.9 1238.5,107.7 1246.5,108.3 1254.5,108.7 1262.5,108.4 1270.5,107.9 1278.5,107.8 1286.5,111.5 1294.5,116.0 1302.5,119.8 1310.5,124.1 1318.5,129.3 1326.5,136.7 1334.5,143.5 1342.5,149.7 1350.5,157.3 1358.5,164.0 1366.5,167.9 1374.5,171.8 1382.5,181.2 1390.5,192.5 1398.5,203.7 1406.5,217.3 1414.5,228.2 1422.5,240.0 1430.5,252.2 1438.5,264.4 1446.5,276.3 1454.5,283.9 1462.5,291.7 1470.5,300.8 1478.5,314.1 1486.5,328.9 1494.5,340.4 1502.5,353.8 1510.5,369.1 1518.5,379.6 1526.5,390.1 1534.5,401.4 1542.5,412.6 1550.5,419.3 1558.5,424.6 1566.5,430.3 1574.5,434.1 1582.5,439.0 1590.5,445.7 1598.5,451.5 1606.5,457.5 1614.5,463.9 1622.5,469.9 1630.5,474.4 1638.5,478.5 1646.5,478.3 1654.5,475.2 1662.5,473.3" fill="none" stroke="#ffa500" stroke-width="1" />
</g>
<rect x="0" y="76" width="1683" height="2" fill="#ff0000"/>
<rect x="0" y="205" width="1683" height="2" fill="#ff0000"/>
<rect x="0" y="334" width="1683" height="2" fill="#32cd32"/>
<rect x="0" y="496" width="1683" height="2" fill="#4169e1"/>
<rect x="0" y="34" width="1684" height="1" fill="#000"/>
<rect x="1683" y="34" width="1" height="535" fill="#000"/>
<rect x="0" y="568" width="1684" height="1" fill="#000"/>
<rect x="0" y="570" width="1684" height="1" fill="#000"/>
<rect x="1683" y="570" width="1" height="160" fill="#000"/>
<rect x="0" y="729" width="1684" height="1" fill="#000"/>
<rect x="0" y="731" width="1684" height="1" fill="#000"/>
<rect x="1683" y="731" width="1" height="146" fill="#000"/>
<rect x="0" y="876" width="1684" height="1" fill="#000"/>
<rect x="1684" y="37" width="2" height="1" fill="#000"/>
<text x="1688.5" y="41.3" fill="#000" stroke="#000" stroke-width="0.3" style="font-family:'Liberation Sans',Arial,sans-serif;font-size:9.7px;letter-spacing:-0.05px" text-anchor="start" >44.115</text>
<rect x="1684" y="70" width="2" height="1" fill="#000"/>
<text x="1688.5" y="74.3" fill="#000" stroke="#000" stroke-width="0.3" style="font-family:'Liberation Sans',Arial,sans-serif;font-size:9.7px;letter-spacing:-0.05px" text-anchor="start" >43.605</text>
<rect x="1684" y="103" width="2" height="1" fill="#000"/>
<text x="1688.5" y="107.3" fill="#000" stroke="#000" stroke-width="0.3" style="font-family:'Liberation Sans',Arial,sans-serif;font-size:9.7px;letter-spacing:-0.05px" text-anchor="start" >43.095</text>
<rect x="1684" y="136" width="2" height="1" fill="#000"/>
<text x="1688.5" y="140.3" fill="#000" stroke="#000" stroke-width="0.3" style="font-family:'Liberation Sans',Arial,sans-serif;font-size:9.7px;letter-spacing:-0.05px" text-anchor="start" >42.585</text>
<rect x="1684" y="169" width="2" height="1" fill="#000"/>
<text x="1688.5" y="173.3" fill="#000" stroke="#000" stroke-width="0.3" style="font-family:'Liberation Sans',Arial,sans-serif;font-size:9.7px;letter-spacing:-0.05px" text-anchor="start" >42.075</text>
<rect x="1684" y="202" width="2" height="1" fill="#000"/>
<text x="1688.5" y="206.3" fill="#000" stroke="#000" stroke-width="0.3" style="font-family:'Liberation Sans',Arial,sans-serif;font-size:9.7px;letter-spacing:-0.05px" text-anchor="start" >41.565</text>
<rect x="1684" y="235" width="2" height="1" fill="#000"/>
<text x="1688.5" y="239.3" fill="#000" stroke="#000" stroke-width="0.3" style="font-family:'Liberation Sans',Arial,sans-serif;font-size:9.7px;letter-spacing:-0.05px" text-anchor="start" >41.055</text>
<rect x="1684" y="268" width="2" height="1" fill="#000"/>
<text x="1688.5" y="272.3" fill="#000" stroke="#000" stroke-width="0.3" style="font-family:'Liberation Sans',Arial,sans-serif;font-size:9.7px;letter-spacing:-0.05px" text-anchor="start" >40.545</text>
<rect x="1684" y="301" width="2" height="1" fill="#000"/>
<text x="1688.5" y="305.3" fill="#000" stroke="#000" stroke-width="0.3" style="font-family:'Liberation Sans',Arial,sans-serif;font-size:9.7px;letter-spacing:-0.05px" text-anchor="start" >40.035</text>
<rect x="1684" y="334" width="2" height="1" fill="#000"/>
<text x="1688.5" y="338.3" fill="#000" stroke="#000" stroke-width="0.3" style="font-family:'Liberation Sans',Arial,sans-serif;font-size:9.7px;letter-spacing:-0.05px" text-anchor="start" >39.525</text>
<rect x="1684" y="367" width="2" height="1" fill="#000"/>
<text x="1688.5" y="371.3" fill="#000" stroke="#000" stroke-width="0.3" style="font-family:'Liberation Sans',Arial,sans-serif;font-size:9.7px;letter-spacing:-0.05px" text-anchor="start" >39.015</text>
<rect x="1684" y="400" width="2" height="1" fill="#000"/>
<text x="1688.5" y="404.3" fill="#000" stroke="#000" stroke-width="0.3" style="font-family:'Liberation Sans',Arial,sans-serif;font-size:9.7px;letter-spacing:-0.05px" text-anchor="start" >38.505</text>
<rect x="1684" y="433" width="2" height="1" fill="#000"/>
<text x="1688.5" y="437.3" fill="#000" stroke="#000" stroke-width="0.3" style="font-family:'Liberation Sans',Arial,sans-serif;font-size:9.7px;letter-spacing:-0.05px" text-anchor="start" >37.995</text>
<rect x="1684" y="466" width="2" height="1" fill="#000"/>
<text x="1688.5" y="470.3" fill="#000" stroke="#000" stroke-width="0.3" style="font-family:'Liberation Sans',Arial,sans-serif;font-size:9.7px;letter-spacing:-0.05px" text-anchor="start" >37.485</text>
<rect x="1684" y="499" width="2" height="1" fill="#000"/>
<text x="1688.5" y="503.3" fill="#000" stroke="#000" stroke-width="0.3" style="font-family:'Liberation Sans',Arial,sans-serif;font-size:9.7px;letter-spacing:-0.05px" text-anchor="start" >36.975</text>
<rect x="1684" y="531" width="2" height="1" fill="#000"/>
<text x="1688.5" y="535.3" fill="#000" stroke="#000" stroke-width="0.3" style="font-family:'Liberation Sans',Arial,sans-serif;font-size:9.7px;letter-spacing:-0.05px" text-anchor="start" >36.465</text>
<rect x="1684" y="564" width="2" height="1" fill="#000"/>
<text x="1688.5" y="568.3" fill="#000" stroke="#000" stroke-width="0.3" style="font-family:'Liberation Sans',Arial,sans-serif;font-size:9.7px;letter-spacing:-0.05px" text-anchor="start" >35.955</text>
<rect x="1685" y="71" width="36" height="11" fill="#ff0000"/>
<text x="1688.5" y="80.3" fill="#ffffff" stroke="#ffffff" stroke-width="0.1" style="font-family:'Liberation Sans',Arial,sans-serif;font-size:9.7px;letter-spacing:-0.05px" text-anchor="start" >43.500</text>
<rect x="1685" y="200" width="36" height="11" fill="#ff0000"/>
<text x="1688.5" y="209.3" fill="#ffffff" stroke="#ffffff" stroke-width="0.1" style="font-family:'Liberation Sans',Arial,sans-serif;font-size:9.7px;letter-spacing:-0.05px" text-anchor="start" >41.500</text>
<rect x="1685" y="329" width="36" height="11" fill="#32cd32"/>
<text x="1688.5" y="338.3" fill="#ffffff" stroke="#ffffff" stroke-width="0.1" style="font-family:'Liberation Sans',Arial,sans-serif;font-size:9.7px;letter-spacing:-0.05px" text-anchor="start" >39.500</text>
<rect x="1685" y="460" width="36" height="11" fill="#000000"/>
<text x="1688.5" y="469.3" fill="#ffffff" stroke="#ffffff" stroke-width="0.1" style="font-family:'Liberation Sans',Arial,sans-serif;font-size:9.7px;letter-spacing:-0.05px" text-anchor="start" >37.500</text>
<rect x="1685" y="491" width="36" height="11" fill="#4169e1"/>
<text x="1688.5" y="500.3" fill="#ffffff" stroke="#ffffff" stroke-width="0.1" style="font-family:'Liberation Sans',Arial,sans-serif;font-size:9.7px;letter-spacing:-0.05px" text-anchor="start" >37.000</text>
<polygon points="1,41 8,41 4.5,45" fill="#000"/>
<text x="13.2" y="46.3" fill="#000" stroke="#000" stroke-width="0.3" style="font-family:'Liberation Sans',Arial,sans-serif;font-size:9.7px;letter-spacing:-0.15px" text-anchor="start" xml:space="preserve">USOil-,H4  37.410 37.500 37.390 37.500</text>
<text transform="translate(970.8,287.6) scale(0.983,1)" fill="#ed1c24" style="font-family:'Noto Sans CJK SC','Liberation Sans',sans-serif;font-size:34px">多空转折点</text>
<text transform="translate(1138.2,287) scale(0.91,1)" fill="#ed1c24" style="font-family:'Liberation Sans',sans-serif;font-size:36.5px">39.5</text>
<g shape-rendering="crispEdges">
<rect x="6" y="618" width="1" height="2" fill="#c0c0c0"/>
<rect x="14" y="618" width="1" height="3" fill="#c0c0c0"/>
<rect x="22" y="618" width="1" height="4" fill="#c0c0c0"/>
<rect x="30" y="618" width="1" height="3" fill="#c0c0c0"/>
<rect x="38" y="618" width="1" height="1" fill="#c0c0c0"/>
<rect x="46" y="618" width="1" height="1" fill="#c0c0c0"/>
<rect x="54" y="618" width="1" height="1" fill="#c0c0c0"/>
<rect x="62" y="618" width="1" height="1" fill="#c0c0c0"/>
<rect x="70" y="618" width="1" height="1" fill="#c0c0c0"/>
<rect x="78" y="618" width="1" height="3" fill="#c0c0c0"/>
<rect x="86" y="618" width="1" height="7" fill="#c0c0c0"/>
<rect x="94" y="618" width="1" height="14" fill="#c0c0c0"/>
<rect x="102" y="618" width="1" height="18" fill="#c0c0c0"/>
<rect x="110" y="618" width="1" height="20" fill="#c0c0c0"/>
<rect x="118" y="618" width="1" height="22" fill="#c0c0c0"/>
<rect x="126" y="618" width="1" height="23" fill="#c0c0c0"/>
<rect x="134" y="618" width="1" height="23" fill="#c0c0c0"/>
<rect x="142" y="618" width="1" height="26" fill="#c0c0c0"/>
<rect x="150" y="618" width="1" height="24" fill="#c0c0c0"/>
<rect x="158" y="618" width="1" height="23" fill="#c0c0c0"/>
<rect x="166" y="618" width="1" height="23" fill="#c0c0c0"/>
<rect x="174" y="618" width="1" height="24" fill="#c0c0c0"/>
<rect x="182" y="618" width="1" height="25" fill="#c0c0c0"/>
<rect x="190" y="618" width="1" height="25" fill="#c0c0c0"/>
<rect x="198" y="618" width="1" height="18" fill="#c0c0c0"/>
<rect x="206" y="618" width="1" height="14" fill="#c0c0c0"/>
<rect x="214" y="618" width="1" height="11" fill="#c0c0c0"/>
<rect x="222" y="618" width="1" height="9" fill="#c0c0c0"/>
<rect x="230" y="618" width="1" height="7" fill="#c0c0c0"/>
<rect x="238" y="618" width="1" height="8" fill="#c0c0c0"/>
<rect x="246" y="617" width="1" height="2" fill="#c0c0c0"/>
<rect x="254" y="612" width="1" height="7" fill="#c0c0c0"/>
<rect x="262" y="607" width="1" height="12" fill="#c0c0c0"/>
<rect x="270" y="604" width="1" height="15" fill="#c0c0c0"/>
<rect x="278" y="599" width="1" height="20" fill="#c0c0c0"/>
<rect x="286" y="586" width="1" height="33" fill="#c0c0c0"/>
<rect x="294" y="579" width="1" height="40" fill="#c0c0c0"/>
<rect x="302" y="579" width="1" height="40" fill="#c0c0c0"/>
<rect x="310" y="580" width="1" height="39" fill="#c0c0c0"/>
<rect x="318" y="581" width="1" height="38" fill="#c0c0c0"/>
<rect x="326" y="583" width="1" height="36" fill="#c0c0c0"/>
<rect x="334" y="585" width="1" height="34" fill="#c0c0c0"/>
<rect x="342" y="585" width="1" height="34" fill="#c0c0c0"/>
<rect x="350" y="587" width="1" height="32" fill="#c0c0c0"/>
<rect x="358" y="589" width="1" height="30" fill="#c0c0c0"/>
<rect x="366" y="592" width="1" height="27" fill="#c0c0c0"/>
<rect x="374" y="594" width="1" height="25" fill="#c0c0c0"/>
<rect x="382" y="599" width="1" height="20" fill="#c0c0c0"/>
<rect x="390" y="604" width="1" height="15" fill="#c0c0c0"/>
<rect x="398" y="607" width="1" height="12" fill="#c0c0c0"/>
<rect x="406" y="609" width="1" height="10" fill="#c0c0c0"/>
<rect x="414" y="611" width="1" height="8" fill="#c0c0c0"/>
<rect x="422" y="611" width="1" height="8" fill="#c0c0c0"/>
<rect x="430" y="610" width="1" height="9" fill="#c0c0c0"/>
<rect x="438" y="611" width="1" height="8" fill="#c0c0c0"/>
<rect x="446" y="609" width="1" height="10" fill="#c0c0c0"/>
<rect x="454" y="608" width="1" height="11" fill="#c0c0c0"/>
<rect x="462" y="608" width="1" height="11" fill="#c0c0c0"/>
<rect x="470" y="606" width="1" height="13" fill="#c0c0c0"/>
<rect x="478" y="604" width="1" height="15" fill="#c0c0c0"/>
<rect x="486" y="601" width="1" height="18" fill="#c0c0c0"/>
<rect x="494" y="601" width="1" height="18" fill="#c0c0c0"/>
<rect x="502" y="606" width="1" height="13" fill="#c0c0c0"/>
<rect x="510" y="610" width="1" height="9" fill="#c0c0c0"/>
<rect x="518" y="612" width="1" height="7" fill="#c0c0c0"/>
<rect x="526" y="612" width="1" height="7" fill="#c0c0c0"/>
<rect x="534" y="610" width="1" height="9" fill="#c0c0c0"/>
<rect x="542" y="609" width="1" height="10" fill="#c0c0c0"/>
<rect x="550" y="606" width="1" height="13" fill="#c0c0c0"/>
<rect x="558" y="604" width="1" height="15" fill="#c0c0c0"/>
<rect x="566" y="602" width="1" height="17" fill="#c0c0c0"/>
<rect x="574" y="602" width="1" height="17" fill="#c0c0c0"/>
<rect x="582" y="600" width="1" height="19" fill="#c0c0c0"/>
<rect x="590" y="602" width="1" height="17" fill="#c0c0c0"/>
<rect x="598" y="603" width="1" height="16" fill="#c0c0c0"/>
<rect x="606" y="604" width="1" height="15" fill="#c0c0c0"/>
<rect x="614" y="605" width="1" height="14" fill="#c0c0c0"/>
<rect x="622" y="608" width="1" height="11" fill="#c0c0c0"/>
<rect x="630" y="610" width="1" height="9" fill="#c0c0c0"/>
<rect x="638" y="611" width="1" height="8" fill="#c0c0c0"/>
<rect x="646" y="613" width="1" height="6" fill="#c0c0c0"/>
<rect x="654" y="613" width="1" height="6" fill="#c0c0c0"/>
<rect x="662" y="613" width="1" height="6" fill="#c0c0c0"/>
<rect x="670" y="613" width="1" height="6" fill="#c0c0c0"/>
<rect x="678" y="613" width="1" height="6" fill="#c0c0c0"/>
<rect x="686" y="616" width="1" height="3" fill="#c0c0c0"/>
<rect x="694" y="615" width="1" height="4" fill="#c0c0c0"/>
<rect x="702" y="612" width="1" height="7" fill="#c0c0c0"/>
<rect x="710" y="609" width="1" height="10" fill="#c0c0c0"/>
<rect x="718" y="608" width="1" height="11" fill="#c0c0c0"/>
<rect x="726" y="606" width="1" height="13" fill="#c0c0c0"/>
<rect x="734" y="606" width="1" height="13" fill="#c0c0c0"/>
<rect x="742" y="606" width="1" height="13" fill="#c0c0c0"/>
<rect x="750" y="605" width="1" height="14" fill="#c0c0c0"/>
<rect x="758" y="604" width="1" height="15" fill="#c0c0c0"/>
<rect x="766" y="603" width="1" height="16" fill="#c0c0c0"/>
<rect x="774" y="604" width="1" height="15" fill="#c0c0c0"/>
<rect x="782" y="604" width="1" height="15" fill="#c0c0c0"/>
<rect x="790" y="602" width="1" height="17" fill="#c0c0c0"/>
<rect x="798" y="602" width="1" height="17" fill="#c0c0c0"/>
<rect x="806" y="603" width="1" height="16" fill="#c0c0c0"/>
<rect x="814" y="605" width="1" height="14" fill="#c0c0c0"/>
<rect x="822" y="606" width="1" height="13" fill="#c0c0c0"/>
<rect x="830" y="608" width="1" height="11" fill="#c0c0c0"/>
<rect x="838" y="609" width="1" height="10" fill="#c0c0c0"/>
<rect x="846" y="609" width="1" height="10" fill="#c0c0c0"/>
<rect x="854" y="609" width="1" height="10" fill="#c0c0c0"/>
<rect x="862" y="609" width="1" height="10" fill="#c0c0c0"/>
<rect x="870" y="610" width="1" height="9" fill="#c0c0c0"/>
<rect x="878" y="615" width="1" height="4" fill="#c0c0c0"/>
<rect x="886" y="618" width="1" height="6" fill="#c0c0c0"/>
<rect x="894" y="618" width="1" height="7" fill="#c0c0c0"/>
<rect x="902" y="618" width="1" height="8" fill="#c0c0c0"/>
<rect x="910" y="618" width="1" height="7" fill="#c0c0c0"/>
<rect x="918" y="618" width="1" height="8" fill="#c0c0c0"/>
<rect x="926" y="618" width="1" height="6" fill="#c0c0c0"/>
<rect x="934" y="618" width="1" height="4" fill="#c0c0c0"/>
<rect x="942" y="618" width="1" height="3" fill="#c0c0c0"/>
<rect x="950" y="618" width="1" height="4" fill="#c0c0c0"/>
<rect x="958" y="618" width="1" height="3" fill="#c0c0c0"/>
<rect x="966" y="618" width="1" height="3" fill="#c0c0c0"/>
<rect x="974" y="618" width="1" height="3" fill="#c0c0c0"/>
<rect x="982" y="618" width="1" height="1" fill="#c0c0c0"/>
<rect x="990" y="613" width="1" height="6" fill="#c0c0c0"/>
<rect x="998" y="609" width="1" height="10" fill="#c0c0c0"/>
<rect x="1006" y="606" width="1" height="13" fill="#c0c0c0"/>
<rect x="1014" y="604" width="1" height="15" fill="#c0c0c0"/>
<rect x="1022" y="602" width="1" height="17" fill="#c0c0c0"/>
<rect x="1030" y="602" width="1" height="17" fill="#c0c0c0"/>
<rect x="1038" y="601" width="1" height="18" fill="#c0c0c0"/>
<rect x="1046" y="600" width="1" height="19" fill="#c0c0c0"/>
<rect x="1054" y="600" width="1" height="19" fill="#c0c0c0"/>
<rect x="1062" y="600" width="1" height="19" fill="#c0c0c0"/>
<rect x="1070" y="600" width="1" height="19" fill="#c0c0c0"/>
<rect x="1078" y="602" width="1" height="17" fill="#c0c0c0"/>
<rect x="1086" y="604" width="1" height="15" fill="#c0c0c0"/>
<rect x="1094" y="606" width="1" height="13" fill="#c0c0c0"/>
<rect x="1102" y="608" width="1" height="11" fill="#c0c0c0"/>
<rect x="1110" y="610" width="1" height="9" fill="#c0c0c0"/>
<rect x="1118" y="612" width="1" height="7" fill="#c0c0c0"/>
<rect x="1126" y="613" width="1" height="6" fill="#c0c0c0"/>
<rect x="1134" y="614" width="1" height="5" fill="#c0c0c0"/>
<rect x="1142" y="615" width="1" height="4" fill="#c0c0c0"/>
<rect x="1150" y="615" width="1" height="4" fill="#c0c0c0"/>
<rect x="1158" y="616" width="1" height="3" fill="#c0c0c0"/>
<rect x="1166" y="615" width="1" height="4" fill="#c0c0c0"/>
<rect x="1174" y="614" width="1" height="5" fill="#c0c0c0"/>
<rect x="1182" y="612" width="1" height="7" fill="#c0c0c0"/>
<rect x="1190" y="613" width="1" height="6" fill="#c0c0c0"/>
<rect x="1198" y="615" width="1" height="4" fill="#c0c0c0"/>
<rect x="1206" y="616" width="1" height="3" fill="#c0c0c0"/>
<rect x="1214" y="617" width="1" height="2" fill="#c0c0c0"/>
<rect x="1222" y="616" width="1" height="3" fill="#c0c0c0"/>
<rect x="1230" y="616" width="1" height="3" fill="#c0c0c0"/>
<rect x="1238" y="616" width="1" height="3" fill="#c0c0c0"/>
<rect x="1246" y="617" width="1" height="2" fill="#c0c0c0"/>
<rect x="1254" y="617" width="1" height="2" fill="#c0c0c0"/>
<rect x="1262" y="617" width="1" height="2" fill="#c0c0c0"/>
<rect x="1270" y="617" width="1" height="2" fill="#c0c0c0"/>
<rect x="1278" y="617" width="1" height="2" fill="#c0c0c0"/>
<rect x="1286" y="618" width="1" height="9" fill="#c0c0c0"/>
<rect x="1294" y="618" width="1" height="17" fill="#c0c0c0"/>
<rect x="1302" y="618" width="1" height="21" fill="#c0c0c0"/>
<rect x="1310" y="618" width="1" height="26" fill="#c0c0c0"/>
<rect x="1318" y="618" width="1" height="31" fill="#c0c0c0"/>
<rect x="1326" y="618" width="1" height="39" fill="#c0c0c0"/>
<rect x="1334" y="618" width="1" height="42" fill="#c0c0c0"/>
<rect x="1342" y="618" width="1" height="43" fill="#c0c0c0"/>
<rect x="1350" y="618" width="1" height="44" fill="#c0c0c0"/>
<rect x="1358" y="618" width="1" height="46" fill="#c0c0c0"/>
<rect x="1366" y="618" width="1" height="42" fill="#c0c0c0"/>
<rect x="1374" y="618" width="1" height="38" fill="#c0c0c0"/>
<rect x="1382" y="618" width="1" height="46" fill="#c0c0c0"/>
<rect x="1390" y="618" width="1" height="54" fill="#c0c0c0"/>
<rect x="1398" y="618" width="1" height="60" fill="#c0c0c0"/>
<rect x="1406" y="618" width="1" height="68" fill="#c0c0c0"/>
<rect x="1414" y="618" width="1" height="70" fill="#c0c0c0"/>
<rect x="1422" y="618" width="1" height="72" fill="#c0c0c0"/>
<rect x="1430" y="618" width="1" height="73" fill="#c0c0c0"/>
<rect x="1438" y="618" width="1" height="73" fill="#c0c0c0"/>
<rect x="1446" y="618" width="1" height="72" fill="#c0c0c0"/>
<rect x="1454" y="618" width="1" height="70" fill="#c0c0c0"/>
<rect x="1462" y="618" width="1" height="69" fill="#c0c0c0"/>
<rect x="1470" y="618" width="1" height="69" fill="#c0c0c0"/>
<rect x="1478" y="618" width="1" height="78" fill="#c0c0c0"/>
<rect x="1486" y="618" width="1" height="89" fill="#c0c0c0"/>
<rect x="1494" y="618" width="1" height="94" fill="#c0c0c0"/>
<rect x="1502" y="618" width="1" height="99" fill="#c0c0c0"/>
<rect x="1510" y="618" width="1" height="103" fill="#c0c0c0"/>
<rect x="1518" y="618" width="1" height="98" fill="#c0c0c0"/>
<rect x="1526" y="618" width="1" height="92" fill="#c0c0c0"/>
<rect x="1534" y="618" width="1" height="85" fill="#c0c0c0"/>
<rect x="1542" y="618" width="1" height="77" fill="#c0c0c0"/>
<rect x="1550" y="618" width="1" height="72" fill="#c0c0c0"/>
<rect x="1558" y="618" width="1" height="67" fill="#c0c0c0"/>
<rect x="1566" y="618" width="1" height="63" fill="#c0c0c0"/>
<rect x="1574" y="618" width="1" height="60" fill="#c0c0c0"/>
<rect x="1582" y="618" width="1" height="56" fill="#c0c0c0"/>
<rect x="1590" y="618" width="1" height="56" fill="#c0c0c0"/>
<rect x="1598" y="618" width="1" height="54" fill="#c0c0c0"/>
<rect x="1606" y="618" width="1" height="53" fill="#c0c0c0"/>
<rect x="1614" y="618" width="1" height="52" fill="#c0c0c0"/>
<rect x="1622" y="618" width="1" height="49" fill="#c0c0c0"/>
<rect x="1630" y="618" width="1" height="45" fill="#c0c0c0"/>
<rect x="1638" y="618" width="1" height="41" fill="#c0c0c0"/>
<rect x="1646" y="618" width="1" height="39" fill="#c0c0c0"/>
<rect x="1654" y="618" width="1" height="36" fill="#c0c0c0"/>
<rect x="1662" y="618" width="1" height="33" fill="#c0c0c0"/>
<polyline points="-1.5,617.6 6.5,617.8 14.5,618.1 22.5,618.4 30.5,618.8 38.5,618.9 46.5,619.0 54.5,619.1 62.5,619.2 70.5,619.3 78.5,619.5 86.5,620.0 94.5,621.2 102.5,622.8 110.5,624.9 118.5,627.3 126.5,629.7 134.5,632.2 142.5,635.0 150.5,637.3 158.5,639.0 166.5,639.9 174.5,640.5 182.5,641.1 190.5,641.4 198.5,640.9 206.5,639.8 214.5,638.2 222.5,636.5 230.5,634.7 238.5,633.1 246.5,630.5 254.5,627.1 262.5,623.3 270.5,619.8 278.5,616.2 286.5,611.5 294.5,606.3 302.5,601.3 310.5,596.3 318.5,592.2 326.5,589.0 334.5,586.5 342.5,584.4 350.5,583.1 358.5,583.5 366.5,585.0 374.5,586.6 382.5,588.8 390.5,591.5 398.5,594.2 406.5,596.9 414.5,599.8 422.5,602.4 430.5,604.8 438.5,606.9 446.5,608.6 454.5,609.6 462.5,609.9 470.5,609.8 478.5,609.2 486.5,608.1 494.5,607.0 502.5,606.5 510.5,606.4 518.5,606.7 526.5,607.0 534.5,607.3 542.5,607.6 550.5,607.8 558.5,608.1 566.5,608.3 574.5,607.8 582.5,606.8 590.5,605.7 598.5,604.8 606.5,604.1 614.5,603.7 622.5,604.0 630.5,604.6 638.5,605.6 646.5,606.8 654.5,608.2 662.5,609.5 670.5,610.5 678.5,611.6 686.5,612.8 694.5,613.6 702.5,613.8 710.5,613.6 718.5,613.1 726.5,612.3 734.5,611.5 742.5,610.8 750.5,609.8 758.5,608.5 766.5,607.2 774.5,606.2 782.5,605.7 790.5,605.0 798.5,604.6 806.5,604.3 814.5,604.1 822.5,604.3 830.5,604.7 838.5,605.2 846.5,605.9 854.5,606.4 862.5,607.1 870.5,608.1 878.5,609.3 886.5,611.3 894.5,613.3 902.5,615.2 910.5,617.0 918.5,618.7 926.5,620.3 934.5,621.6 942.5,622.7 950.5,623.3 958.5,623.0 966.5,622.6 974.5,622.0 982.5,621.3 990.5,620.0 998.5,618.5 1006.5,616.8 1014.5,615.0 1022.5,613.0 1030.5,611.0 1038.5,608.9 1046.5,606.8 1054.5,604.8 1062.5,603.3 1070.5,602.2 1078.5,601.8 1086.5,601.8 1094.5,602.2 1102.5,602.9 1110.5,603.8 1118.5,605.1 1126.5,606.6 1134.5,608.1 1142.5,609.7 1150.5,611.2 1158.5,612.5 1166.5,613.6 1174.5,614.2 1182.5,614.4 1190.5,614.4 1198.5,614.7 1206.5,615.0 1214.5,615.2 1222.5,615.3 1230.5,615.4 1238.5,615.5 1246.5,615.9 1254.5,616.5 1262.5,617.0 1270.5,617.2 1278.5,617.2 1286.5,618.2 1294.5,620.2 1302.5,622.6 1310.5,625.6 1318.5,629.0 1326.5,633.3 1334.5,638.0 1342.5,642.8 1350.5,647.7 1358.5,651.7 1366.5,654.5 1374.5,656.4 1382.5,658.6 1390.5,661.2 1398.5,663.5 1406.5,666.4 1414.5,669.4 1422.5,672.5 1430.5,675.5 1438.5,679.0 1446.5,682.7 1454.5,685.5 1462.5,687.2 1470.5,688.2 1478.5,689.3 1486.5,691.4 1494.5,693.8 1502.5,696.7 1510.5,700.1 1518.5,702.9 1526.5,705.4 1534.5,707.1 1542.5,708.1 1550.5,707.5 1558.5,705.0 1566.5,701.6 1574.5,697.3 1582.5,692.1 1590.5,687.5 1598.5,683.2 1606.5,679.7 1614.5,676.8 1622.5,674.3 1630.5,671.8 1638.5,669.4 1646.5,667.0 1654.5,664.8 1662.5,662.2" fill="none" stroke="#ff0000" stroke-width="1" stroke-dasharray="3,3"/>
</g>
<text x="2.2" y="582.8" fill="#000" stroke="#000" stroke-width="0.3" style="font-family:'Liberation Sans',Arial,sans-serif;font-size:9.7px;letter-spacing:-0.16px" text-anchor="start" >MACD(12,26,9) -0.3995 -0.5470</text>
<rect x="1684" y="572" width="2" height="1" fill="#000"/>
<rect x="1684" y="618" width="2" height="1" fill="#000"/>
<rect x="1684" y="728" width="2" height="1" fill="#000"/>
<text x="1687.2" y="581" fill="#000" stroke="#000" stroke-width="0.3" style="font-family:'Liberation Sans',Arial,sans-serif;font-size:9.7px;letter-spacing:-0.05px" text-anchor="start" >0.5734</text>
<text x="1687.2" y="622" fill="#000" stroke="#000" stroke-width="0.3" style="font-family:'Liberation Sans',Arial,sans-serif;font-size:9.7px;letter-spacing:-0.05px" text-anchor="start" >0.00</text>
<text x="1687.2" y="726" fill="#000" stroke="#000" stroke-width="0.3" style="font-family:'Liberation Sans',Arial,sans-serif;font-size:9.7px;letter-spacing:-0.05px" text-anchor="start" >-1.3628</text>
<g shape-rendering="crispEdges">
<line x1="-1" y1="775.5" x2="1683" y2="775.5" stroke="#c0c0c0" stroke-dasharray="3,3"/>
<line x1="-1" y1="833.5" x2="1683" y2="833.5" stroke="#c0c0c0" stroke-dasharray="3,3"/>
<polyline points="-1.5,807.2 6.5,810.9 14.5,807.6 22.5,809.3 30.5,804.0 38.5,801.0 46.5,804.3 54.5,805.0 62.5,804.6 70.5,804.6 78.5,814.4 86.5,820.3 94.5,829.8 102.5,824.6 110.5,821.2 118.5,823.6 126.5,817.9 134.5,820.0 142.5,826.6 150.5,812.3 158.5,811.5 166.5,817.0 174.5,819.8 182.5,823.9 190.5,815.5 198.5,796.4 206.5,801.2 214.5,803.6 222.5,803.3 230.5,802.0 238.5,810.9 246.5,789.5 254.5,789.5 262.5,789.5 270.5,788.3 278.5,783.3 286.5,768.5 294.5,778.8 302.5,793.5 310.5,792.4 318.5,793.5 326.5,795.7 334.5,796.8 342.5,791.3 350.5,797.5 358.5,796.8 366.5,801.9 374.5,799.2 382.5,808.6 390.5,810.7 398.5,806.8 406.5,806.5 414.5,804.8 422.5,801.6 430.5,799.6 438.5,802.3 446.5,795.0 454.5,796.7 462.5,796.7 470.5,791.5 478.5,789.3 486.5,784.6 494.5,793.5 502.5,813.4 510.5,811.2 518.5,806.4 526.5,801.3 534.5,795.9 542.5,796.3 550.5,790.1 558.5,791.0 566.5,789.5 574.5,791.0 582.5,788.9 590.5,800.2 598.5,800.2 606.5,796.1 614.5,801.6 622.5,809.6 630.5,803.7 638.5,806.9 646.5,805.4 654.5,804.0 662.5,801.0 670.5,799.5 678.5,803.6 686.5,813.4 694.5,801.5 702.5,788.4 710.5,790.5 718.5,793.7 726.5,788.5 734.5,796.9 742.5,796.1 750.5,791.3 758.5,790.6 766.5,790.6 774.5,793.1 782.5,795.8 790.5,784.8 798.5,791.3 806.5,797.2 814.5,801.8 822.5,799.7 830.5,803.3 838.5,801.6 846.5,799.9 854.5,794.8 862.5,794.8 870.5,805.3 878.5,821.6 886.5,835.6 894.5,811.8 902.5,811.4 910.5,807.7 918.5,810.4 926.5,802.6 934.5,799.3 942.5,803.9 950.5,808.0 958.5,805.8 966.5,804.0 974.5,806.8 982.5,797.2 990.5,787.7 998.5,785.0 1006.5,784.7 1014.5,785.8 1022.5,785.8 1030.5,794.9 1038.5,787.8 1046.5,788.4 1054.5,787.6 1062.5,789.7 1070.5,787.9 1078.5,802.5 1086.5,798.9 1094.5,805.1 1102.5,807.3 1110.5,805.0 1118.5,811.1 1126.5,804.0 1134.5,805.2 1142.5,805.8 1150.5,807.1 1158.5,803.6 1166.5,798.4 1174.5,791.9 1182.5,788.6 1190.5,803.2 1198.5,814.4 1206.5,810.0 1214.5,806.4 1222.5,800.1 1230.5,803.2 1238.5,800.8 1246.5,811.0 1254.5,804.4 1262.5,802.1 1270.5,803.3 1278.5,805.3 1286.5,838.8 1294.5,840.1 1302.5,832.5 1310.5,835.0 1318.5,840.1 1326.5,847.0 1334.5,836.7 1342.5,826.3 1350.5,830.9 1358.5,831.7 1366.5,815.3 1374.5,813.5 1382.5,834.8 1390.5,838.5 1398.5,839.0 1406.5,844.1 1414.5,831.9 1422.5,833.0 1430.5,833.6 1438.5,833.9 1446.5,833.2 1454.5,832.4 1462.5,834.4 1470.5,836.9 1478.5,849.2 1486.5,853.6 1494.5,843.8 1502.5,845.6 1510.5,847.2 1518.5,824.7 1526.5,825.0 1534.5,818.8 1542.5,817.5 1550.5,819.9 1558.5,819.6 1566.5,822.1 1574.5,822.8 1582.5,818.0 1590.5,826.8 1598.5,822.1 1606.5,823.8 1614.5,824.4 1622.5,821.2 1630.5,814.4 1638.5,815.4 1646.5,818.0 1654.5,815.4 1662.5,813.5" fill="none" stroke="#1e90ff" stroke-width="1" />
</g>
<text x="1.8" y="744.3" fill="#000" stroke="#000" stroke-width="0.3" style="font-family:'Liberation Sans',Arial,sans-serif;font-size:9.7px;letter-spacing:-0.24px" text-anchor="start" >RSI(14) 44.3301</text>
<rect x="1684" y="733" width="2" height="1" fill="#000"/>
<rect x="1684" y="775" width="2" height="1" fill="#000"/>
<rect x="1684" y="833" width="2" height="1" fill="#000"/>
<rect x="1684" y="875" width="2" height="1" fill="#000"/>
<text x="1687" y="742" fill="#000" stroke="#000" stroke-width="0.3" style="font-family:'Liberation Sans',Arial,sans-serif;font-size:9.7px;letter-spacing:-0.05px" text-anchor="start" >100</text>
<text x="1687" y="779" fill="#000" stroke="#000" stroke-width="0.3" style="font-family:'Liberation Sans',Arial,sans-serif;font-size:9.7px;letter-spacing:-0.05px" text-anchor="start" >70</text>
<text x="1687" y="837" fill="#000" stroke="#000" stroke-width="0.3" style="font-family:'Liberation Sans',Arial,sans-serif;font-size:9.7px;letter-spacing:-0.05px" text-anchor="start" >30</text>
<text x="1687" y="873" fill="#000" stroke="#000" stroke-width="0.3" style="font-family:'Liberation Sans',Arial,sans-serif;font-size:9.7px;letter-spacing:-0.05px" text-anchor="start" >0</text>
<text x="-2.9" y="889" fill="#000" stroke="#000" stroke-width="0.3" style="font-family:'Liberation Sans',Arial,sans-serif;font-size:9.7px;letter-spacing:-0.28px" text-anchor="start" >28 Jul 2020</text>
<rect x="62" y="877" width="1" height="3" fill="#000"/>
<text x="61.2" y="889" fill="#000" stroke="#000" stroke-width="0.3" style="font-family:'Liberation Sans',Arial,sans-serif;font-size:9.7px;letter-spacing:-0.28px" text-anchor="start" >29 Jul 20:00</text>
<rect x="126" y="877" width="1" height="3" fill="#000"/>
<text x="125.2" y="889" fill="#000" stroke="#000" stroke-width="0.3" style="font-family:'Liberation Sans',Arial,sans-serif;font-size:9.7px;letter-spacing:-0.28px" text-anchor="start" >31 Jul 04:00</text>
<rect x="190" y="877" width="1" height="3" fill="#000"/>
<text x="189.2" y="889" fill="#000" stroke="#000" stroke-width="0.3" style="font-family:'Liberation Sans',Arial,sans-serif;font-size:9.7px;letter-spacing:-0.06px" text-anchor="start" >3 Aug 08:00</text>
<rect x="254" y="877" width="1" height="3" fill="#000"/>
<text x="253.2" y="889" fill="#000" stroke="#000" stroke-width="0.3" style="font-family:'Liberation Sans',Arial,sans-serif;font-size:9.7px;letter-spacing:-0.06px" text-anchor="start" >4 Aug 16:00</text>
<rect x="318" y="877" width="1" height="3" fill="#000"/>
<text x="317.2" y="889" fill="#000" stroke="#000" stroke-width="0.3" style="font-family:'Liberation Sans',Arial,sans-serif;font-size:9.7px;letter-spacing:-0.06px" text-anchor="start" >6 Aug 00:00</text>
<rect x="382" y="877" width="1" height="3" fill="#000"/>
<text x="381.2" y="889" fill="#000" stroke="#000" stroke-width="0.3" style="font-family:'Liberation Sans',Arial,sans-serif;font-size:9.7px;letter-spacing:-0.06px" text-anchor="start" >7 Aug 08:00</text>
<rect x="446" y="877" width="1" height="3" fill="#000"/>
<text x="445.2" y="889" fill="#000" stroke="#000" stroke-width="0.3" style="font-family:'Liberation Sans',Arial,sans-serif;font-size:9.7px;letter-spacing:-0.06px" text-anchor="start" >10 Aug 12:00</text>
<rect x="510" y="877" width="1" height="3" fill="#000"/>
<text x="509.2" y="889" fill="#000" stroke="#000" stroke-width="0.3" style="font-family:'Liberation Sans',Arial,sans-serif;font-size:9.7px;letter-spacing:-0.06px" text-anchor="start" >11 Aug 20:00</text>
<rect x="574" y="877" width="1" height="3" fill="#000"/>
<text x="573.2" y="889" fill="#000" stroke="#000" stroke-width="0.3" style="font-family:'Liberation Sans',Arial,sans-serif;font-size:9.7px;letter-spacing:-0.06px" text-anchor="start" >13 Aug 04:00</text>
<rect x="638" y="877" width="1" height="3" fill="#000"/>
<text x="637.2" y="889" fill="#000" stroke="#000" stroke-width="0.3" style="font-family:'Liberation Sans',Arial,sans-serif;font-size:9.7px;letter-spacing:-0.06px" text-anchor="start" >14 Aug 12:00</text>
<rect x="702" y="877" width="1" height="3" fill="#000"/>
<text x="701.2" y="889" fill="#000" stroke="#000" stroke-width="0.3" style="font-family:'Liberation Sans',Arial,sans-serif;font-size:9.7px;letter-spacing:-0.06px" text-anchor="start" >17 Aug 16:00</text>
<rect x="766" y="877" width="1" height="3" fill="#000"/>
<text x="765.2" y="889" fill="#000" stroke="#000" stroke-width="0.3" style="font-family:'Liberation Sans',Arial,sans-serif;font-size:9.7px;letter-spacing:-0.06px" text-anchor="start" >19 Aug 00:00</text>
<rect x="830" y="877" width="1" height="3" fill="#000"/>
<text x="829.2" y="889" fill="#000" stroke="#000" stroke-width="0.3" style="font-family:'Liberation Sans',Arial,sans-serif;font-size:9.7px;letter-spacing:-0.06px" text-anchor="start" >20 Aug 08:00</text>
<rect x="894" y="877" width="1" height="3" fill="#000"/>
<text x="893.2" y="889" fill="#000" stroke="#000" stroke-width="0.3" style="font-family:'Liberation Sans',Arial,sans-serif;font-size:9.7px;letter-spacing:-0.06px" text-anchor="start" >21 Aug 16:00</text>
<rect x="958" y="877" width="1" height="3" fill="#000"/>
<text x="957.2" y="889" fill="#000" stroke="#000" stroke-width="0.3" style="font-family:'Liberation Sans',Arial,sans-serif;font-size:9.7px;letter-spacing:-0.06px" text-anchor="start" >24 Aug 20:00</text>
<rect x="1022" y="877" width="1" height="3" fill="#000"/>
<text x="1021.2" y="889" fill="#000" stroke="#000" stroke-width="0.3" style="font-family:'Liberation Sans',Arial,sans-serif;font-size:9.7px;letter-spacing:-0.06px" text-anchor="start" >26 Aug 04:00</text>
<rect x="1086" y="877" width="1" height="3" fill="#000"/>
<text x="1085.2" y="889" fill="#000" stroke="#000" stroke-width="0.3" style="font-family:'Liberation Sans',Arial,sans-serif;font-size:9.7px;letter-spacing:-0.06px" text-anchor="start" >27 Aug 12:00</text>
<rect x="1150" y="877" width="1" height="3" fill="#000"/>
<text x="1149.2" y="889" fill="#000" stroke="#000" stroke-width="0.3" style="font-family:'Liberation Sans',Arial,sans-serif;font-size:9.7px;letter-spacing:-0.06px" text-anchor="start" >28 Aug 20:00</text>
<rect x="1214" y="877" width="1" height="3" fill="#000"/>
<text x="1213.2" y="889" fill="#000" stroke="#000" stroke-width="0.3" style="font-family:'Liberation Sans',Arial,sans-serif;font-size:9.7px;letter-spacing:-0.28px" text-anchor="start" >1 Sep 00:00</text>
<rect x="1278" y="877" width="1" height="3" fill="#000"/>
<text x="1277.2" y="889" fill="#000" stroke="#000" stroke-width="0.3" style="font-family:'Liberation Sans',Arial,sans-serif;font-size:9.7px;letter-spacing:-0.28px" text-anchor="start" >2 Sep 08:00</text>
<rect x="1342" y="877" width="1" height="3" fill="#000"/>
<text x="1341.2" y="889" fill="#000" stroke="#000" stroke-width="0.3" style="font-family:'Liberation Sans',Arial,sans-serif;font-size:9.7px;letter-spacing:-0.28px" text-anchor="start" >3 Sep 16:00</text>
<rect x="1406" y="877" width="1" height="3" fill="#000"/>
<text x="1405.2" y="889" fill="#000" stroke="#000" stroke-width="0.3" style="font-family:'Liberation Sans',Arial,sans-serif;font-size:9.7px;letter-spacing:-0.28px" text-anchor="start" >6 Sep 23:00</text>
<rect x="1470" y="877" width="1" height="3" fill="#000"/>
<text x="1469.2" y="889" fill="#000" stroke="#000" stroke-width="0.3" style="font-family:'Liberation Sans',Arial,sans-serif;font-size:9.7px;letter-spacing:-0.28px" text-anchor="start" >8 Sep 04:00</text>
<rect x="1534" y="877" width="1" height="3" fill="#000"/>
<text x="1533.2" y="889" fill="#000" stroke="#000" stroke-width="0.3" style="font-family:'Liberation Sans',Arial,sans-serif;font-size:9.7px;letter-spacing:-0.28px" text-anchor="start" >9 Sep 12:00</text>
<rect x="1598" y="877" width="1" height="3" fill="#000"/>
<text x="1597.2" y="889" fill="#000" stroke="#000" stroke-width="0.3" style="font-family:'Liberation Sans',Arial,sans-serif;font-size:9.7px;letter-spacing:-0.28px" text-anchor="start" >10 Sep 20:00</text>
<rect x="1662" y="877" width="1" height="3" fill="#000"/>
<text x="1661.2" y="889" fill="#000" stroke="#000" stroke-width="0.3" style="font-family:'Liberation Sans',Arial,sans-serif;font-size:9.7px;letter-spacing:-0.28px" text-anchor="start" >14 Sep 00:00</text></svg>
</body></html>
